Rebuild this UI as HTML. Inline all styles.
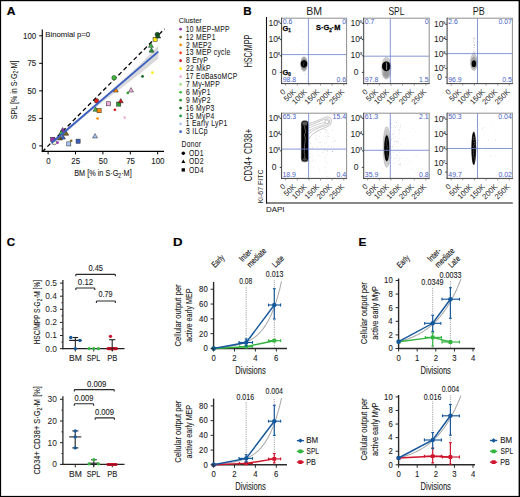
<!DOCTYPE html>
<html><head><meta charset="utf-8"><style>
html,body{margin:0;padding:0;background:#fff;width:520px;height:497px;overflow:hidden}
svg{display:block}
text{font-family:"Liberation Sans",sans-serif}
</style></head><body>
<svg width="520" height="497" viewBox="0 0 520 497">
<rect x="0" y="0" width="520" height="497" fill="#fff"/>
<defs><filter id="bl1" x="-50%" y="-50%" width="200%" height="200%"><feGaussianBlur stdDeviation="0.9"/></filter><filter id="bl2" x="-50%" y="-50%" width="200%" height="200%"><feGaussianBlur stdDeviation="1.6"/></filter><filter id="bl05" x="-50%" y="-50%" width="200%" height="200%"><feGaussianBlur stdDeviation="0.45"/></filter><radialGradient id="halo"><stop offset="0" stop-color="#444"/><stop offset="0.55" stop-color="#888"/><stop offset="0.85" stop-color="#bbb"/><stop offset="1" stop-color="#ddd" stop-opacity="0.3"/></radialGradient><radialGradient id="halo2"><stop offset="0" stop-color="#8a8a8a"/><stop offset="0.75" stop-color="#c4c4c4"/><stop offset="1" stop-color="#e2e2e2"/></radialGradient><radialGradient id="halo3"><stop offset="0" stop-color="#888"/><stop offset="0.8" stop-color="#ccc"/><stop offset="1" stop-color="#eee"/></radialGradient></defs>
<text transform="translate(7.1 14.8) translate(-0.3 0) scale(1.0605 1)" font-size="11.4" font-weight="bold" fill="#000" stroke="#000" stroke-width="0.2">A</text>
<path d="M51.5 140.6 L70 125.4 L90 108.6 L105 95.8 L120 82.6 L140 64.5 L158.2 45.4 L158.2 58.8 L140 73.5 L120 88.9 L105 100 L90 112 L70 129 L51.5 145.4Z" fill="#d9d9d9" stroke="none" stroke-width="1"/>
<line x1="42.29" y1="151.74" x2="164.6" y2="28.86" stroke="#000" stroke-width="1.3" stroke-dasharray="4.3 2.9"/>
<rect x="50.65" y="137.25" width="4.1" height="4.1" fill="#9a2fb0" stroke="#222" stroke-width="0.5"/>
<circle cx="54.4" cy="142.5" r="2.3" fill="#e8f4d8" stroke="#222" stroke-width="0.5"/>
<circle cx="57.6" cy="142.6" r="1.3" fill="#9a2fb0"/>
<path d="M60 135.57 L57.5 139.97 L62.5 139.97Z" fill="#7d6b1e" stroke="#222" stroke-width="0.5"/>
<path d="M66.2 130.87 L63.7 135.27 L68.7 135.27Z" fill="#7d6b1e" stroke="#222" stroke-width="0.5"/>
<path d="M62.7 127.47 L60.2 131.87 L65.2 131.87Z" fill="#9a2fb0" stroke="#222" stroke-width="0.5"/>
<path d="M61.3 130.27 L58.8 134.67 L63.8 134.67Z" fill="#3cbc3c" stroke="#222" stroke-width="0.5"/>
<path d="M62.9 134.67 L60.4 139.07 L65.4 139.07Z" fill="#3a62c4" stroke="#222" stroke-width="0.5"/>
<rect x="66.75" y="141.85" width="4.1" height="4.1" fill="#a8c4f4" stroke="#222" stroke-width="0.5"/>
<circle cx="71.2" cy="140.8" r="1.3" fill="#7d6b1e"/>
<rect x="76.05" y="139.15" width="4.1" height="4.1" fill="#3a62c4" stroke="#222" stroke-width="0.5"/>
<path d="M95 133.57 L92.5 137.97 L97.5 137.97Z" fill="#a8c4f4" stroke="#222" stroke-width="0.5"/>
<circle cx="97.6" cy="118.5" r="1.3" fill="#ff8a00"/>
<path d="M95.6 106.87 L93.1 111.27 L98.1 111.27Z" fill="#3cbc3c" stroke="#222" stroke-width="0.5"/>
<rect x="97.05" y="108.65" width="4.1" height="4.1" fill="#ff8a00" stroke="#222" stroke-width="0.5"/>
<circle cx="96.6" cy="100.9" r="2.3" fill="#e0201c" stroke="#222" stroke-width="0.5"/>
<rect x="106.55" y="101.75" width="4.1" height="4.1" fill="#eeaad8" stroke="#222" stroke-width="0.5"/>
<circle cx="114.9" cy="109.7" r="1.3" fill="#d2141c"/>
<rect x="116.65" y="102.05" width="4.1" height="4.1" fill="#2a9f2a" stroke="#222" stroke-width="0.5"/>
<path d="M120.8 98.47 L118.3 102.87 L123.3 102.87Z" fill="#d2141c" stroke="#222" stroke-width="0.5"/>
<circle cx="124.7" cy="117.5" r="1.3" fill="#eeaad8"/>
<path d="M115.8 87.57 L113.3 91.97 L118.3 91.97Z" fill="#ff8a00" stroke="#222" stroke-width="0.5"/>
<path d="M131 87.57 L128.5 91.97 L133.5 91.97Z" fill="#eeaad8" stroke="#222" stroke-width="0.5"/>
<circle cx="127.8" cy="92.9" r="1.3" fill="#2a9f2a"/>
<circle cx="114.1" cy="77.8" r="2.3" fill="#3cbc3c" stroke="#222" stroke-width="0.5"/>
<circle cx="142.5" cy="76.4" r="1.3" fill="#0d5c1c"/>
<circle cx="152.4" cy="72.6" r="1.3" fill="#ffee00"/>
<path d="M151.5 47.77 L149 52.17 L154 52.17Z" fill="#229a3a" stroke="#222" stroke-width="0.5"/>
<path d="M150.9 42.97 L148.4 47.37 L153.4 47.37Z" fill="#3cbc3c" stroke="#222" stroke-width="0.5"/>
<rect x="153.05" y="37.25" width="4.1" height="4.1" fill="#ffee00" stroke="#222" stroke-width="0.5"/>
<circle cx="157.3" cy="34.6" r="2.3" fill="#0d5c1c" stroke="#222" stroke-width="0.5"/>
<path d="M158.2 33.67 L155.7 38.07 L160.7 38.07Z" fill="#0d5c1c" stroke="#222" stroke-width="0.5"/>
<line x1="51.5" y1="143" x2="158.3" y2="51.6" stroke="#3a5fc4" stroke-width="1.9"/>
<line x1="42.3" y1="29.4" x2="42.3" y2="151.7" stroke="#000" stroke-width="1.15"/>
<line x1="41.7" y1="151.4" x2="164" y2="151.4" stroke="#000" stroke-width="1.15"/>
<line x1="39.2" y1="145.9" x2="42.3" y2="145.9" stroke="#000" stroke-width="1"/>
<text transform="translate(35.9 149) translate(-4.11 0) scale(0.8600 1)" font-size="9.2" fill="#1a1a1a" stroke="#1a1a1a" stroke-width="0.1">0</text>
<line x1="48.1" y1="151.4" x2="48.1" y2="154.4" stroke="#000" stroke-width="1"/>
<text transform="translate(48.4 163.7) translate(-2.22 0) scale(0.8600 1)" font-size="9.2" fill="#1a1a1a" stroke="#1a1a1a" stroke-width="0.1">0</text>
<line x1="39.2" y1="118.38" x2="42.3" y2="118.38" stroke="#000" stroke-width="1"/>
<text transform="translate(35.9 121.47) translate(-8.47 0) scale(0.8600 1)" font-size="9.2" fill="#1a1a1a" stroke="#1a1a1a" stroke-width="0.1">25</text>
<line x1="75.5" y1="151.4" x2="75.5" y2="154.4" stroke="#000" stroke-width="1"/>
<text transform="translate(75.8 163.7) translate(-4.43 0) scale(0.8600 1)" font-size="9.2" fill="#1a1a1a" stroke="#1a1a1a" stroke-width="0.1">25</text>
<line x1="39.2" y1="90.85" x2="42.3" y2="90.85" stroke="#000" stroke-width="1"/>
<text transform="translate(35.9 93.95) translate(-8.51 0) scale(0.8600 1)" font-size="9.2" fill="#1a1a1a" stroke="#1a1a1a" stroke-width="0.1">50</text>
<line x1="102.9" y1="151.4" x2="102.9" y2="154.4" stroke="#000" stroke-width="1"/>
<text transform="translate(103.2 163.7) translate(-4.41 0) scale(0.8600 1)" font-size="9.2" fill="#1a1a1a" stroke="#1a1a1a" stroke-width="0.1">50</text>
<line x1="39.2" y1="63.33" x2="42.3" y2="63.33" stroke="#000" stroke-width="1"/>
<text transform="translate(35.9 66.42) translate(-8.47 0) scale(0.8600 1)" font-size="9.2" fill="#1a1a1a" stroke="#1a1a1a" stroke-width="0.1">75</text>
<line x1="130.3" y1="151.4" x2="130.3" y2="154.4" stroke="#000" stroke-width="1"/>
<text transform="translate(130.6 163.7) translate(-4.43 0) scale(0.8600 1)" font-size="9.2" fill="#1a1a1a" stroke="#1a1a1a" stroke-width="0.1">75</text>
<line x1="39.2" y1="35.8" x2="42.3" y2="35.8" stroke="#000" stroke-width="1"/>
<text transform="translate(35.9 38.9) translate(-12.9 0) scale(0.8600 1)" font-size="9.2" fill="#1a1a1a" stroke="#1a1a1a" stroke-width="0.1">100</text>
<line x1="157.7" y1="151.4" x2="157.7" y2="154.4" stroke="#000" stroke-width="1"/>
<text transform="translate(158 163.7) translate(-6.74 0) scale(0.8600 1)" font-size="9.2" fill="#1a1a1a" stroke="#1a1a1a" stroke-width="0.1">100</text>
<text transform="translate(45.9 36.8) translate(-0.62 0) scale(0.9560 1)" font-size="8.1" fill="#1a1a1a" stroke="#1a1a1a" stroke-width="0.1">Binomial p=0</text>
<text transform="translate(102.95 176.4) translate(-28.8 0) scale(0.7688 1)" font-size="9.5" fill="#1a1a1a" stroke="#1a1a1a" stroke-width="0.1">BM [% in S·G<tspan font-size="6.6" dy="1.9">2</tspan><tspan dy="-1.9">·M]</tspan></text>
<text transform="translate(16.5 89.85) rotate(-90) translate(-29.4 0) scale(0.7511 1)" font-size="9.5" fill="#1a1a1a" stroke="#1a1a1a" stroke-width="0.1">SPL [% in S·G<tspan font-size="6.6" dy="1.9">2</tspan><tspan dy="-1.9">·M]</tspan></text>
<text transform="translate(179 22.7) translate(-0.36 0) scale(0.9113 1)" font-size="8" fill="#1a1a1a" stroke="#1a1a1a" stroke-width="0.08">Cluster</text>
<circle cx="180.6" cy="29.15" r="1.35" fill="#9a2fb0"/>
<text transform="translate(186.3 31.75) translate(-0.51 0) scale(0.7704 1)" font-size="8.8" fill="#1a1a1a" stroke="#1a1a1a" stroke-width="0.08" letter-spacing="0.39">10 MEP-MPP</text>
<circle cx="180.6" cy="37.04" r="1.35" fill="#7d6b1e"/>
<text transform="translate(186.3 39.64) translate(-0.51 0) scale(0.7704 1)" font-size="8.8" fill="#1a1a1a" stroke="#1a1a1a" stroke-width="0.08" letter-spacing="0.39">12 MEP1</text>
<circle cx="180.6" cy="44.93" r="1.35" fill="#ff8a00"/>
<text transform="translate(186.3 47.53) translate(-0.34 0) scale(0.7704 1)" font-size="8.8" fill="#1a1a1a" stroke="#1a1a1a" stroke-width="0.08" letter-spacing="0.39">2 MEP2</text>
<circle cx="180.6" cy="52.82" r="1.35" fill="#ff3a10"/>
<text transform="translate(186.3 55.42) translate(-0.51 0) scale(0.7704 1)" font-size="8.8" fill="#1a1a1a" stroke="#1a1a1a" stroke-width="0.08" letter-spacing="0.39">13 MEP cycle</text>
<circle cx="180.6" cy="60.71" r="1.35" fill="#d2141c"/>
<text transform="translate(186.3 63.31) translate(-0.31 0) scale(0.7704 1)" font-size="8.8" fill="#1a1a1a" stroke="#1a1a1a" stroke-width="0.08" letter-spacing="0.39">8 EryP</text>
<circle cx="180.6" cy="68.6" r="1.35" fill="#ffee00"/>
<text transform="translate(186.3 71.2) translate(-0.34 0) scale(0.7704 1)" font-size="8.8" fill="#1a1a1a" stroke="#1a1a1a" stroke-width="0.08" letter-spacing="0.39">22 MkP</text>
<circle cx="180.6" cy="76.49" r="1.35" fill="#eeaad8"/>
<text transform="translate(186.3 79.09) translate(-0.51 0) scale(0.7704 1)" font-size="8.8" fill="#1a1a1a" stroke="#1a1a1a" stroke-width="0.08" letter-spacing="0.39">17 EoBasoMCP</text>
<circle cx="180.6" cy="84.38" r="1.35" fill="#a8dc88"/>
<text transform="translate(186.3 86.98) translate(-0.34 0) scale(0.7704 1)" font-size="8.8" fill="#1a1a1a" stroke="#1a1a1a" stroke-width="0.08" letter-spacing="0.39">7 My-MPP</text>
<circle cx="180.6" cy="92.27" r="1.35" fill="#3cbc3c"/>
<text transform="translate(186.3 94.87) translate(-0.34 0) scale(0.7704 1)" font-size="8.8" fill="#1a1a1a" stroke="#1a1a1a" stroke-width="0.08" letter-spacing="0.39">6 MyP1</text>
<circle cx="180.6" cy="100.16" r="1.35" fill="#2a9f2a"/>
<text transform="translate(186.3 102.76) translate(-0.31 0) scale(0.7704 1)" font-size="8.8" fill="#1a1a1a" stroke="#1a1a1a" stroke-width="0.08" letter-spacing="0.39">9 MyP2</text>
<circle cx="180.6" cy="108.05" r="1.35" fill="#0d5c1c"/>
<text transform="translate(186.3 110.65) translate(-0.51 0) scale(0.7704 1)" font-size="8.8" fill="#1a1a1a" stroke="#1a1a1a" stroke-width="0.08" letter-spacing="0.39">16 MyP3</text>
<circle cx="180.6" cy="115.94" r="1.35" fill="#229a3a"/>
<text transform="translate(186.3 118.54) translate(-0.51 0) scale(0.7704 1)" font-size="8.8" fill="#1a1a1a" stroke="#1a1a1a" stroke-width="0.08" letter-spacing="0.39">15 MyP4</text>
<circle cx="180.6" cy="123.83" r="1.35" fill="#a8c4f4"/>
<text transform="translate(186.3 126.43) translate(-0.51 0) scale(0.7704 1)" font-size="8.8" fill="#1a1a1a" stroke="#1a1a1a" stroke-width="0.08" letter-spacing="0.39">1 Early LyP1</text>
<circle cx="180.6" cy="131.72" r="1.35" fill="#3a62c4"/>
<text transform="translate(186.3 134.32) translate(-0.27 0) scale(0.7704 1)" font-size="8.8" fill="#1a1a1a" stroke="#1a1a1a" stroke-width="0.08" letter-spacing="0.39">3 ILCp</text>
<text transform="translate(182 147.3) translate(-0.54 0) scale(0.7704 1)" font-size="8.8" fill="#1a1a1a" stroke="#1a1a1a" stroke-width="0.08" letter-spacing="0.39">Donor</text>
<circle cx="183.3" cy="153.3" r="1.75" fill="#000"/>
<path d="M183.3 159.4 L181.3 163.0 L185.3 163.0Z" fill="#000" stroke="none" stroke-width="1"/>
<rect x="181.65" y="168.25" width="3.3" height="3.3" fill="#000"/>
<text transform="translate(189.2 155.7) translate(-0.31 0) scale(0.7704 1)" font-size="8.8" fill="#1a1a1a" stroke="#1a1a1a" stroke-width="0.08" letter-spacing="0.39">OD1</text>
<text transform="translate(189.2 163.9) translate(-0.31 0) scale(0.7704 1)" font-size="8.8" fill="#1a1a1a" stroke="#1a1a1a" stroke-width="0.08" letter-spacing="0.39">OD2</text>
<text transform="translate(189.2 172.6) translate(-0.31 0) scale(0.7704 1)" font-size="8.8" fill="#1a1a1a" stroke="#1a1a1a" stroke-width="0.08" letter-spacing="0.39">OD4</text>
<text transform="translate(244 14.9) translate(-0.76 0) scale(1.0034 1)" font-size="11.6" font-weight="bold" fill="#000" stroke="#000" stroke-width="0.2">B</text>
<text transform="translate(314.2 14.9) translate(-7.89 0) scale(0.9964 1)" font-size="10.6" fill="#1a1a1a">BM</text>
<text transform="translate(396.5 14.9) translate(-8.08 0) scale(0.8005 1)" font-size="10.6" fill="#1a1a1a">SPL</text>
<text transform="translate(478.9 14.9) translate(-6.12 0) scale(0.8491 1)" font-size="10.6" fill="#1a1a1a">PB</text>
<text transform="translate(251.7 50.95) rotate(-90) translate(-16.42 0) scale(0.6513 1)" font-size="11" fill="#1a1a1a">HSC/MPP</text>
<text transform="translate(251.9 155.2) rotate(-90) translate(-26.4 0) scale(0.7594 1)" font-size="10.6" fill="#1a1a1a">CD34+ CD38+</text>
<text transform="translate(263.1 186.2) rotate(-90) translate(-17.11 0) scale(0.8775 1)" font-size="8" fill="#1a1a1a">Ki-67 FITC</text>
<text transform="translate(266.7 212.1) translate(-0.63 0) scale(1.0698 1)" font-size="7.4" fill="#1a1a1a" stroke="#1a1a1a" stroke-width="0.05">DAPI</text>
<line x1="266.5" y1="17" x2="266.5" y2="203.5" stroke="#111" stroke-width="1.1"/>
<line x1="266" y1="203" x2="512.8" y2="203" stroke="#111" stroke-width="1.1"/>
<ellipse cx="304" cy="64" rx="4.1" ry="8.2" fill="url(#halo)"/>
<ellipse cx="304" cy="63.8" rx="3.2" ry="3.6" fill="#000" filter="url(#bl05)"/>
<path d="M303.7 61.8 q0.8 1 0 2 q-0.8 1 0 2" stroke="#777" stroke-width="0.5" fill="none"/>
<circle cx="302.68" cy="31" r="0.35" fill="#aaa"/>
<circle cx="303.29" cy="37" r="0.35" fill="#aaa"/>
<circle cx="302.94" cy="45" r="0.35" fill="#aaa"/>
<circle cx="303.41" cy="50" r="0.35" fill="#aaa"/>
<circle cx="304.5" cy="74" r="0.4" fill="#bbb"/>
<line x1="308.4" y1="18.2" x2="308.4" y2="83.6" stroke="#6680cc" stroke-width="0.8"/>
<line x1="281.6" y1="54.6" x2="346.6" y2="54.6" stroke="#6680cc" stroke-width="0.8"/>
<line x1="281.6" y1="18.2" x2="347.1" y2="18.2" stroke="#8e8e8e" stroke-width="1"/>
<line x1="346.6" y1="18.2" x2="346.6" y2="83.6" stroke="#8e8e8e" stroke-width="1"/>
<line x1="281.6" y1="17.7" x2="281.6" y2="84.1" stroke="#3a3a3a" stroke-width="1"/>
<line x1="281.1" y1="83.6" x2="347.1" y2="83.6" stroke="#3a3a3a" stroke-width="1"/>
<text transform="translate(283 24.4) translate(-0.28 0) scale(1.1000 1)" font-size="6.3" fill="#4862c6">0.6</text>
<text transform="translate(345.8 24.4) translate(-3.6 0) scale(1.1000 1)" font-size="6.3" fill="#4862c6">0</text>
<text transform="translate(283 81.7) translate(-0.31 0) scale(1.1000 1)" font-size="6.3" fill="#4862c6">98.8</text>
<text transform="translate(345.8 81.7) translate(-9.36 0) scale(1.1000 1)" font-size="6.3" fill="#4862c6">0.6</text>
<text transform="translate(277.6 25.9) translate(-9.19 0) scale(0.9500 1)" font-size="9" fill="#1a1a1a">10</text>
<text transform="translate(277.75 22.9) translate(-0.17 0)" font-size="4.3" fill="#1a1a1a" stroke="#1a1a1a" stroke-width="0.1">5</text>
<line x1="279.8" y1="23.3" x2="281.6" y2="23.3" stroke="#222" stroke-width="0.9"/>
<text transform="translate(277.6 42.2) translate(-9.19 0) scale(0.9500 1)" font-size="9" fill="#1a1a1a">10</text>
<text transform="translate(277.75 39.2) translate(-0.09 0)" font-size="4.3" fill="#1a1a1a" stroke="#1a1a1a" stroke-width="0.1">4</text>
<line x1="279.8" y1="39.6" x2="281.6" y2="39.6" stroke="#222" stroke-width="0.9"/>
<text transform="translate(277.6 58.4) translate(-9.19 0) scale(0.9500 1)" font-size="9" fill="#1a1a1a">10</text>
<text transform="translate(277.75 55.4) translate(-0.17 0)" font-size="4.3" fill="#1a1a1a" stroke="#1a1a1a" stroke-width="0.1">3</text>
<line x1="279.8" y1="55.8" x2="281.6" y2="55.8" stroke="#222" stroke-width="0.9"/>
<text transform="translate(276.2 75.2) translate(-4.45 0) scale(0.9500 1)" font-size="9" fill="#1a1a1a">0</text>
<line x1="279.8" y1="72.4" x2="281.6" y2="72.4" stroke="#222" stroke-width="0.9"/>
<line x1="280.6" y1="20.4" x2="281.6" y2="20.4" stroke="#999" stroke-width="0.4"/>
<line x1="280.6" y1="22.6" x2="281.6" y2="22.6" stroke="#999" stroke-width="0.4"/>
<line x1="280.6" y1="24.8" x2="281.6" y2="24.8" stroke="#999" stroke-width="0.4"/>
<line x1="280.6" y1="27" x2="281.6" y2="27" stroke="#999" stroke-width="0.4"/>
<line x1="280.6" y1="29.2" x2="281.6" y2="29.2" stroke="#999" stroke-width="0.4"/>
<line x1="280.6" y1="31.4" x2="281.6" y2="31.4" stroke="#999" stroke-width="0.4"/>
<line x1="280.6" y1="33.6" x2="281.6" y2="33.6" stroke="#999" stroke-width="0.4"/>
<line x1="280.6" y1="35.8" x2="281.6" y2="35.8" stroke="#999" stroke-width="0.4"/>
<line x1="280.6" y1="38" x2="281.6" y2="38" stroke="#999" stroke-width="0.4"/>
<line x1="280.6" y1="40.2" x2="281.6" y2="40.2" stroke="#999" stroke-width="0.4"/>
<line x1="280.6" y1="42.4" x2="281.6" y2="42.4" stroke="#999" stroke-width="0.4"/>
<line x1="280.6" y1="44.6" x2="281.6" y2="44.6" stroke="#999" stroke-width="0.4"/>
<line x1="280.6" y1="46.8" x2="281.6" y2="46.8" stroke="#999" stroke-width="0.4"/>
<line x1="280.6" y1="49" x2="281.6" y2="49" stroke="#999" stroke-width="0.4"/>
<line x1="280.6" y1="51.2" x2="281.6" y2="51.2" stroke="#999" stroke-width="0.4"/>
<line x1="280.6" y1="53.4" x2="281.6" y2="53.4" stroke="#999" stroke-width="0.4"/>
<line x1="280.6" y1="55.6" x2="281.6" y2="55.6" stroke="#999" stroke-width="0.4"/>
<line x1="280.6" y1="57.8" x2="281.6" y2="57.8" stroke="#999" stroke-width="0.4"/>
<line x1="280.6" y1="60" x2="281.6" y2="60" stroke="#999" stroke-width="0.4"/>
<line x1="280.6" y1="62.2" x2="281.6" y2="62.2" stroke="#999" stroke-width="0.4"/>
<line x1="280.6" y1="64.4" x2="281.6" y2="64.4" stroke="#999" stroke-width="0.4"/>
<line x1="280.6" y1="66.6" x2="281.6" y2="66.6" stroke="#999" stroke-width="0.4"/>
<line x1="280.6" y1="68.8" x2="281.6" y2="68.8" stroke="#999" stroke-width="0.4"/>
<line x1="280.6" y1="71" x2="281.6" y2="71" stroke="#999" stroke-width="0.4"/>
<line x1="280.6" y1="73.2" x2="281.6" y2="73.2" stroke="#999" stroke-width="0.4"/>
<line x1="280.6" y1="75.4" x2="281.6" y2="75.4" stroke="#999" stroke-width="0.4"/>
<line x1="280.6" y1="77.6" x2="281.6" y2="77.6" stroke="#999" stroke-width="0.4"/>
<line x1="280.6" y1="79.8" x2="281.6" y2="79.8" stroke="#999" stroke-width="0.4"/>
<line x1="280.6" y1="82" x2="281.6" y2="82" stroke="#999" stroke-width="0.4"/>
<line x1="285.6" y1="83.6" x2="285.6" y2="85.6" stroke="#6a6a6a" stroke-width="0.7"/>
<text transform="translate(285.9 92.4) rotate(-45) translate(-3.95 0)" font-size="7.6" fill="#1a1a1a">0</text>
<line x1="297.24" y1="83.6" x2="297.24" y2="85.6" stroke="#6a6a6a" stroke-width="0.7"/>
<text transform="translate(296.3 92.4) rotate(-45) translate(-13.41 0)" font-size="7.6" fill="#1a1a1a">50K</text>
<line x1="308.88" y1="83.6" x2="308.88" y2="85.6" stroke="#6a6a6a" stroke-width="0.7"/>
<text transform="translate(307.4 92.4) rotate(-45) translate(-17.67 0)" font-size="7.6" fill="#1a1a1a">100K</text>
<line x1="320.52" y1="83.6" x2="320.52" y2="85.6" stroke="#6a6a6a" stroke-width="0.7"/>
<text transform="translate(319.9 92.4) rotate(-45) translate(-17.67 0)" font-size="7.6" fill="#1a1a1a">150K</text>
<line x1="332.16" y1="83.6" x2="332.16" y2="85.6" stroke="#6a6a6a" stroke-width="0.7"/>
<text transform="translate(332.3 92.4) rotate(-45) translate(-17.67 0)" font-size="7.6" fill="#1a1a1a">200K</text>
<line x1="343.8" y1="83.6" x2="343.8" y2="85.6" stroke="#6a6a6a" stroke-width="0.7"/>
<text transform="translate(344.8 92.4) rotate(-45) translate(-17.67 0)" font-size="7.6" fill="#1a1a1a">250K</text>
<line x1="287.93" y1="83.6" x2="287.93" y2="84.6" stroke="#999" stroke-width="0.4"/>
<line x1="290.26" y1="83.6" x2="290.26" y2="84.6" stroke="#999" stroke-width="0.4"/>
<line x1="292.58" y1="83.6" x2="292.58" y2="84.6" stroke="#999" stroke-width="0.4"/>
<line x1="294.91" y1="83.6" x2="294.91" y2="84.6" stroke="#999" stroke-width="0.4"/>
<line x1="297.24" y1="83.6" x2="297.24" y2="84.6" stroke="#999" stroke-width="0.4"/>
<line x1="299.57" y1="83.6" x2="299.57" y2="84.6" stroke="#999" stroke-width="0.4"/>
<line x1="301.9" y1="83.6" x2="301.9" y2="84.6" stroke="#999" stroke-width="0.4"/>
<line x1="304.22" y1="83.6" x2="304.22" y2="84.6" stroke="#999" stroke-width="0.4"/>
<line x1="306.55" y1="83.6" x2="306.55" y2="84.6" stroke="#999" stroke-width="0.4"/>
<line x1="308.88" y1="83.6" x2="308.88" y2="84.6" stroke="#999" stroke-width="0.4"/>
<line x1="311.21" y1="83.6" x2="311.21" y2="84.6" stroke="#999" stroke-width="0.4"/>
<line x1="313.54" y1="83.6" x2="313.54" y2="84.6" stroke="#999" stroke-width="0.4"/>
<line x1="315.86" y1="83.6" x2="315.86" y2="84.6" stroke="#999" stroke-width="0.4"/>
<line x1="318.19" y1="83.6" x2="318.19" y2="84.6" stroke="#999" stroke-width="0.4"/>
<line x1="320.52" y1="83.6" x2="320.52" y2="84.6" stroke="#999" stroke-width="0.4"/>
<line x1="322.85" y1="83.6" x2="322.85" y2="84.6" stroke="#999" stroke-width="0.4"/>
<line x1="325.18" y1="83.6" x2="325.18" y2="84.6" stroke="#999" stroke-width="0.4"/>
<line x1="327.5" y1="83.6" x2="327.5" y2="84.6" stroke="#999" stroke-width="0.4"/>
<line x1="329.83" y1="83.6" x2="329.83" y2="84.6" stroke="#999" stroke-width="0.4"/>
<line x1="332.16" y1="83.6" x2="332.16" y2="84.6" stroke="#999" stroke-width="0.4"/>
<line x1="334.49" y1="83.6" x2="334.49" y2="84.6" stroke="#999" stroke-width="0.4"/>
<line x1="336.82" y1="83.6" x2="336.82" y2="84.6" stroke="#999" stroke-width="0.4"/>
<line x1="339.14" y1="83.6" x2="339.14" y2="84.6" stroke="#999" stroke-width="0.4"/>
<line x1="341.47" y1="83.6" x2="341.47" y2="84.6" stroke="#999" stroke-width="0.4"/>
<line x1="343.8" y1="83.6" x2="343.8" y2="84.6" stroke="#999" stroke-width="0.4"/>
<line x1="346.13" y1="83.6" x2="346.13" y2="84.6" stroke="#999" stroke-width="0.4"/>
<ellipse cx="386.35" cy="68.0" rx="4.75" ry="11.0" fill="url(#halo2)"/>
<ellipse cx="386.35" cy="68.0" rx="4.6" ry="10.8" fill="none" stroke="#999" stroke-width="0.4"/>
<ellipse cx="386.3" cy="73.5" rx="3.4" ry="5.0" fill="#999" filter="url(#bl1)"/>
<ellipse cx="386.3" cy="66.3" rx="4.3" ry="4.9" fill="#000" filter="url(#bl05)"/>
<path d="M386.6 62.5 L386.6 70" stroke="#8a8a8a" stroke-width="1.1"/>
<line x1="390.3" y1="18.2" x2="390.3" y2="83.6" stroke="#6680cc" stroke-width="0.8"/>
<line x1="363.7" y1="56.2" x2="429.2" y2="56.2" stroke="#6680cc" stroke-width="0.8"/>
<line x1="363.7" y1="18.2" x2="429.7" y2="18.2" stroke="#8e8e8e" stroke-width="1"/>
<line x1="429.2" y1="18.2" x2="429.2" y2="83.6" stroke="#8e8e8e" stroke-width="1"/>
<line x1="363.7" y1="17.7" x2="363.7" y2="84.1" stroke="#3a3a3a" stroke-width="1"/>
<line x1="363.2" y1="83.6" x2="429.7" y2="83.6" stroke="#3a3a3a" stroke-width="1"/>
<text transform="translate(365.1 24.4) translate(-0.28 0) scale(1.1000 1)" font-size="6.3" fill="#4862c6">0.7</text>
<text transform="translate(428.4 24.4) translate(-3.6 0) scale(1.1000 1)" font-size="6.3" fill="#4862c6">0</text>
<text transform="translate(365.1 81.7) translate(-0.31 0) scale(1.1000 1)" font-size="6.3" fill="#4862c6">97.8</text>
<text transform="translate(428.4 81.7) translate(-9.36 0) scale(1.1000 1)" font-size="6.3" fill="#4862c6">1.5</text>
<text transform="translate(359.7 25.9) translate(-9.19 0) scale(0.9500 1)" font-size="9" fill="#1a1a1a">10</text>
<text transform="translate(359.85 22.9) translate(-0.17 0)" font-size="4.3" fill="#1a1a1a" stroke="#1a1a1a" stroke-width="0.1">5</text>
<line x1="361.9" y1="23.3" x2="363.7" y2="23.3" stroke="#222" stroke-width="0.9"/>
<text transform="translate(359.7 42.2) translate(-9.19 0) scale(0.9500 1)" font-size="9" fill="#1a1a1a">10</text>
<text transform="translate(359.85 39.2) translate(-0.09 0)" font-size="4.3" fill="#1a1a1a" stroke="#1a1a1a" stroke-width="0.1">4</text>
<line x1="361.9" y1="39.6" x2="363.7" y2="39.6" stroke="#222" stroke-width="0.9"/>
<text transform="translate(359.7 58.4) translate(-9.19 0) scale(0.9500 1)" font-size="9" fill="#1a1a1a">10</text>
<text transform="translate(359.85 55.4) translate(-0.17 0)" font-size="4.3" fill="#1a1a1a" stroke="#1a1a1a" stroke-width="0.1">3</text>
<line x1="361.9" y1="55.8" x2="363.7" y2="55.8" stroke="#222" stroke-width="0.9"/>
<text transform="translate(358.3 75.2) translate(-4.45 0) scale(0.9500 1)" font-size="9" fill="#1a1a1a">0</text>
<line x1="361.9" y1="72.4" x2="363.7" y2="72.4" stroke="#222" stroke-width="0.9"/>
<line x1="362.7" y1="20.4" x2="363.7" y2="20.4" stroke="#999" stroke-width="0.4"/>
<line x1="362.7" y1="22.6" x2="363.7" y2="22.6" stroke="#999" stroke-width="0.4"/>
<line x1="362.7" y1="24.8" x2="363.7" y2="24.8" stroke="#999" stroke-width="0.4"/>
<line x1="362.7" y1="27" x2="363.7" y2="27" stroke="#999" stroke-width="0.4"/>
<line x1="362.7" y1="29.2" x2="363.7" y2="29.2" stroke="#999" stroke-width="0.4"/>
<line x1="362.7" y1="31.4" x2="363.7" y2="31.4" stroke="#999" stroke-width="0.4"/>
<line x1="362.7" y1="33.6" x2="363.7" y2="33.6" stroke="#999" stroke-width="0.4"/>
<line x1="362.7" y1="35.8" x2="363.7" y2="35.8" stroke="#999" stroke-width="0.4"/>
<line x1="362.7" y1="38" x2="363.7" y2="38" stroke="#999" stroke-width="0.4"/>
<line x1="362.7" y1="40.2" x2="363.7" y2="40.2" stroke="#999" stroke-width="0.4"/>
<line x1="362.7" y1="42.4" x2="363.7" y2="42.4" stroke="#999" stroke-width="0.4"/>
<line x1="362.7" y1="44.6" x2="363.7" y2="44.6" stroke="#999" stroke-width="0.4"/>
<line x1="362.7" y1="46.8" x2="363.7" y2="46.8" stroke="#999" stroke-width="0.4"/>
<line x1="362.7" y1="49" x2="363.7" y2="49" stroke="#999" stroke-width="0.4"/>
<line x1="362.7" y1="51.2" x2="363.7" y2="51.2" stroke="#999" stroke-width="0.4"/>
<line x1="362.7" y1="53.4" x2="363.7" y2="53.4" stroke="#999" stroke-width="0.4"/>
<line x1="362.7" y1="55.6" x2="363.7" y2="55.6" stroke="#999" stroke-width="0.4"/>
<line x1="362.7" y1="57.8" x2="363.7" y2="57.8" stroke="#999" stroke-width="0.4"/>
<line x1="362.7" y1="60" x2="363.7" y2="60" stroke="#999" stroke-width="0.4"/>
<line x1="362.7" y1="62.2" x2="363.7" y2="62.2" stroke="#999" stroke-width="0.4"/>
<line x1="362.7" y1="64.4" x2="363.7" y2="64.4" stroke="#999" stroke-width="0.4"/>
<line x1="362.7" y1="66.6" x2="363.7" y2="66.6" stroke="#999" stroke-width="0.4"/>
<line x1="362.7" y1="68.8" x2="363.7" y2="68.8" stroke="#999" stroke-width="0.4"/>
<line x1="362.7" y1="71" x2="363.7" y2="71" stroke="#999" stroke-width="0.4"/>
<line x1="362.7" y1="73.2" x2="363.7" y2="73.2" stroke="#999" stroke-width="0.4"/>
<line x1="362.7" y1="75.4" x2="363.7" y2="75.4" stroke="#999" stroke-width="0.4"/>
<line x1="362.7" y1="77.6" x2="363.7" y2="77.6" stroke="#999" stroke-width="0.4"/>
<line x1="362.7" y1="79.8" x2="363.7" y2="79.8" stroke="#999" stroke-width="0.4"/>
<line x1="362.7" y1="82" x2="363.7" y2="82" stroke="#999" stroke-width="0.4"/>
<line x1="367.7" y1="83.6" x2="367.7" y2="85.6" stroke="#6a6a6a" stroke-width="0.7"/>
<text transform="translate(368 92.4) rotate(-45) translate(-3.95 0)" font-size="7.6" fill="#1a1a1a">0</text>
<line x1="379.34" y1="83.6" x2="379.34" y2="85.6" stroke="#6a6a6a" stroke-width="0.7"/>
<text transform="translate(378.4 92.4) rotate(-45) translate(-13.41 0)" font-size="7.6" fill="#1a1a1a">50K</text>
<line x1="390.98" y1="83.6" x2="390.98" y2="85.6" stroke="#6a6a6a" stroke-width="0.7"/>
<text transform="translate(389.5 92.4) rotate(-45) translate(-17.67 0)" font-size="7.6" fill="#1a1a1a">100K</text>
<line x1="402.62" y1="83.6" x2="402.62" y2="85.6" stroke="#6a6a6a" stroke-width="0.7"/>
<text transform="translate(402 92.4) rotate(-45) translate(-17.67 0)" font-size="7.6" fill="#1a1a1a">150K</text>
<line x1="414.26" y1="83.6" x2="414.26" y2="85.6" stroke="#6a6a6a" stroke-width="0.7"/>
<text transform="translate(414.4 92.4) rotate(-45) translate(-17.67 0)" font-size="7.6" fill="#1a1a1a">200K</text>
<line x1="425.9" y1="83.6" x2="425.9" y2="85.6" stroke="#6a6a6a" stroke-width="0.7"/>
<text transform="translate(426.9 92.4) rotate(-45) translate(-17.67 0)" font-size="7.6" fill="#1a1a1a">250K</text>
<line x1="370.03" y1="83.6" x2="370.03" y2="84.6" stroke="#999" stroke-width="0.4"/>
<line x1="372.36" y1="83.6" x2="372.36" y2="84.6" stroke="#999" stroke-width="0.4"/>
<line x1="374.68" y1="83.6" x2="374.68" y2="84.6" stroke="#999" stroke-width="0.4"/>
<line x1="377.01" y1="83.6" x2="377.01" y2="84.6" stroke="#999" stroke-width="0.4"/>
<line x1="379.34" y1="83.6" x2="379.34" y2="84.6" stroke="#999" stroke-width="0.4"/>
<line x1="381.67" y1="83.6" x2="381.67" y2="84.6" stroke="#999" stroke-width="0.4"/>
<line x1="384" y1="83.6" x2="384" y2="84.6" stroke="#999" stroke-width="0.4"/>
<line x1="386.32" y1="83.6" x2="386.32" y2="84.6" stroke="#999" stroke-width="0.4"/>
<line x1="388.65" y1="83.6" x2="388.65" y2="84.6" stroke="#999" stroke-width="0.4"/>
<line x1="390.98" y1="83.6" x2="390.98" y2="84.6" stroke="#999" stroke-width="0.4"/>
<line x1="393.31" y1="83.6" x2="393.31" y2="84.6" stroke="#999" stroke-width="0.4"/>
<line x1="395.64" y1="83.6" x2="395.64" y2="84.6" stroke="#999" stroke-width="0.4"/>
<line x1="397.96" y1="83.6" x2="397.96" y2="84.6" stroke="#999" stroke-width="0.4"/>
<line x1="400.29" y1="83.6" x2="400.29" y2="84.6" stroke="#999" stroke-width="0.4"/>
<line x1="402.62" y1="83.6" x2="402.62" y2="84.6" stroke="#999" stroke-width="0.4"/>
<line x1="404.95" y1="83.6" x2="404.95" y2="84.6" stroke="#999" stroke-width="0.4"/>
<line x1="407.28" y1="83.6" x2="407.28" y2="84.6" stroke="#999" stroke-width="0.4"/>
<line x1="409.6" y1="83.6" x2="409.6" y2="84.6" stroke="#999" stroke-width="0.4"/>
<line x1="411.93" y1="83.6" x2="411.93" y2="84.6" stroke="#999" stroke-width="0.4"/>
<line x1="414.26" y1="83.6" x2="414.26" y2="84.6" stroke="#999" stroke-width="0.4"/>
<line x1="416.59" y1="83.6" x2="416.59" y2="84.6" stroke="#999" stroke-width="0.4"/>
<line x1="418.92" y1="83.6" x2="418.92" y2="84.6" stroke="#999" stroke-width="0.4"/>
<line x1="421.24" y1="83.6" x2="421.24" y2="84.6" stroke="#999" stroke-width="0.4"/>
<line x1="423.57" y1="83.6" x2="423.57" y2="84.6" stroke="#999" stroke-width="0.4"/>
<line x1="425.9" y1="83.6" x2="425.9" y2="84.6" stroke="#999" stroke-width="0.4"/>
<line x1="428.23" y1="83.6" x2="428.23" y2="84.6" stroke="#999" stroke-width="0.4"/>
<circle cx="474.08" cy="38.18" r="0.32" fill="#888"/>
<circle cx="473.22" cy="52.07" r="0.32" fill="#888"/>
<circle cx="473.56" cy="41.22" r="0.32" fill="#888"/>
<circle cx="474.59" cy="45.46" r="0.32" fill="#888"/>
<circle cx="474.37" cy="45.57" r="0.32" fill="#888"/>
<circle cx="474.09" cy="39.71" r="0.32" fill="#888"/>
<circle cx="474.09" cy="52.62" r="0.32" fill="#888"/>
<circle cx="473.93" cy="50.34" r="0.32" fill="#888"/>
<circle cx="474.14" cy="38.15" r="0.32" fill="#888"/>
<circle cx="474.26" cy="47.64" r="0.32" fill="#888"/>
<circle cx="473.62" cy="37.56" r="0.32" fill="#888"/>
<circle cx="474.41" cy="45.51" r="0.32" fill="#888"/>
<circle cx="474.21" cy="52.82" r="0.32" fill="#888"/>
<circle cx="474.2" cy="53.58" r="0.32" fill="#888"/>
<circle cx="473.75" cy="51.42" r="0.32" fill="#888"/>
<circle cx="473.82" cy="53.84" r="0.32" fill="#888"/>
<circle cx="474.43" cy="38.75" r="0.32" fill="#888"/>
<circle cx="473.39" cy="40.91" r="0.32" fill="#888"/>
<circle cx="474.55" cy="44.85" r="0.32" fill="#888"/>
<circle cx="474.08" cy="42.42" r="0.32" fill="#888"/>
<circle cx="473.91" cy="43.95" r="0.32" fill="#888"/>
<circle cx="473.69" cy="47.53" r="0.32" fill="#888"/>
<ellipse cx="473.85" cy="62.2" rx="3.25" ry="8.5" fill="url(#halo3)" stroke="#777" stroke-width="0.4"/>
<ellipse cx="473.85" cy="63.2" rx="2.7" ry="5.6" fill="none" stroke="#666" stroke-width="0.4"/>
<ellipse cx="473.85" cy="63.7" rx="2.25" ry="3.5" fill="#000" filter="url(#bl05)"/>
<line x1="477.5" y1="18.2" x2="477.5" y2="83.6" stroke="#6680cc" stroke-width="0.8"/>
<line x1="447.1" y1="53.6" x2="512.4" y2="53.6" stroke="#6680cc" stroke-width="0.8"/>
<line x1="447.1" y1="18.2" x2="512.9" y2="18.2" stroke="#8e8e8e" stroke-width="1"/>
<line x1="512.4" y1="18.2" x2="512.4" y2="83.6" stroke="#8e8e8e" stroke-width="1"/>
<line x1="447.1" y1="17.7" x2="447.1" y2="84.1" stroke="#3a3a3a" stroke-width="1"/>
<line x1="446.6" y1="83.6" x2="512.9" y2="83.6" stroke="#3a3a3a" stroke-width="1"/>
<text transform="translate(448.5 24.4) translate(-0.35 0) scale(1.1000 1)" font-size="6.3" fill="#4862c6">2.6</text>
<text transform="translate(511.6 24.4) translate(-13.13 0) scale(1.1000 1)" font-size="6.3" fill="#4862c6">0.07</text>
<text transform="translate(448.5 81.7) translate(-0.31 0) scale(1.1000 1)" font-size="6.3" fill="#4862c6">96.9</text>
<text transform="translate(511.6 81.7) translate(-9.36 0) scale(1.1000 1)" font-size="6.3" fill="#4862c6">0.5</text>
<text transform="translate(443.1 26.9) translate(-9.19 0) scale(0.9500 1)" font-size="9" fill="#1a1a1a">10</text>
<text transform="translate(443.25 23.9) translate(-0.17 0)" font-size="4.3" fill="#1a1a1a" stroke="#1a1a1a" stroke-width="0.1">5</text>
<line x1="445.3" y1="24.3" x2="447.1" y2="24.3" stroke="#222" stroke-width="0.9"/>
<text transform="translate(443.1 42.1) translate(-9.19 0) scale(0.9500 1)" font-size="9" fill="#1a1a1a">10</text>
<text transform="translate(443.25 39.1) translate(-0.09 0)" font-size="4.3" fill="#1a1a1a" stroke="#1a1a1a" stroke-width="0.1">4</text>
<line x1="445.3" y1="39.5" x2="447.1" y2="39.5" stroke="#222" stroke-width="0.9"/>
<text transform="translate(443.1 56.6) translate(-9.19 0) scale(0.9500 1)" font-size="9" fill="#1a1a1a">10</text>
<text transform="translate(443.25 53.6) translate(-0.17 0)" font-size="4.3" fill="#1a1a1a" stroke="#1a1a1a" stroke-width="0.1">3</text>
<line x1="445.3" y1="54" x2="447.1" y2="54" stroke="#222" stroke-width="0.9"/>
<text transform="translate(443.1 71.1) translate(-9.19 0) scale(0.9500 1)" font-size="9" fill="#1a1a1a">10</text>
<text transform="translate(443.25 68.1) translate(-0.21 0)" font-size="4.3" fill="#1a1a1a" stroke="#1a1a1a" stroke-width="0.1">2</text>
<line x1="445.3" y1="68.5" x2="447.1" y2="68.5" stroke="#222" stroke-width="0.9"/>
<text transform="translate(441.7 80) translate(-4.45 0) scale(0.9500 1)" font-size="9" fill="#1a1a1a">0</text>
<line x1="445.3" y1="77.2" x2="447.1" y2="77.2" stroke="#222" stroke-width="0.9"/>
<line x1="446.1" y1="20.4" x2="447.1" y2="20.4" stroke="#999" stroke-width="0.4"/>
<line x1="446.1" y1="22.6" x2="447.1" y2="22.6" stroke="#999" stroke-width="0.4"/>
<line x1="446.1" y1="24.8" x2="447.1" y2="24.8" stroke="#999" stroke-width="0.4"/>
<line x1="446.1" y1="27" x2="447.1" y2="27" stroke="#999" stroke-width="0.4"/>
<line x1="446.1" y1="29.2" x2="447.1" y2="29.2" stroke="#999" stroke-width="0.4"/>
<line x1="446.1" y1="31.4" x2="447.1" y2="31.4" stroke="#999" stroke-width="0.4"/>
<line x1="446.1" y1="33.6" x2="447.1" y2="33.6" stroke="#999" stroke-width="0.4"/>
<line x1="446.1" y1="35.8" x2="447.1" y2="35.8" stroke="#999" stroke-width="0.4"/>
<line x1="446.1" y1="38" x2="447.1" y2="38" stroke="#999" stroke-width="0.4"/>
<line x1="446.1" y1="40.2" x2="447.1" y2="40.2" stroke="#999" stroke-width="0.4"/>
<line x1="446.1" y1="42.4" x2="447.1" y2="42.4" stroke="#999" stroke-width="0.4"/>
<line x1="446.1" y1="44.6" x2="447.1" y2="44.6" stroke="#999" stroke-width="0.4"/>
<line x1="446.1" y1="46.8" x2="447.1" y2="46.8" stroke="#999" stroke-width="0.4"/>
<line x1="446.1" y1="49" x2="447.1" y2="49" stroke="#999" stroke-width="0.4"/>
<line x1="446.1" y1="51.2" x2="447.1" y2="51.2" stroke="#999" stroke-width="0.4"/>
<line x1="446.1" y1="53.4" x2="447.1" y2="53.4" stroke="#999" stroke-width="0.4"/>
<line x1="446.1" y1="55.6" x2="447.1" y2="55.6" stroke="#999" stroke-width="0.4"/>
<line x1="446.1" y1="57.8" x2="447.1" y2="57.8" stroke="#999" stroke-width="0.4"/>
<line x1="446.1" y1="60" x2="447.1" y2="60" stroke="#999" stroke-width="0.4"/>
<line x1="446.1" y1="62.2" x2="447.1" y2="62.2" stroke="#999" stroke-width="0.4"/>
<line x1="446.1" y1="64.4" x2="447.1" y2="64.4" stroke="#999" stroke-width="0.4"/>
<line x1="446.1" y1="66.6" x2="447.1" y2="66.6" stroke="#999" stroke-width="0.4"/>
<line x1="446.1" y1="68.8" x2="447.1" y2="68.8" stroke="#999" stroke-width="0.4"/>
<line x1="446.1" y1="71" x2="447.1" y2="71" stroke="#999" stroke-width="0.4"/>
<line x1="446.1" y1="73.2" x2="447.1" y2="73.2" stroke="#999" stroke-width="0.4"/>
<line x1="446.1" y1="75.4" x2="447.1" y2="75.4" stroke="#999" stroke-width="0.4"/>
<line x1="446.1" y1="77.6" x2="447.1" y2="77.6" stroke="#999" stroke-width="0.4"/>
<line x1="446.1" y1="79.8" x2="447.1" y2="79.8" stroke="#999" stroke-width="0.4"/>
<line x1="446.1" y1="82" x2="447.1" y2="82" stroke="#999" stroke-width="0.4"/>
<line x1="451.1" y1="83.6" x2="451.1" y2="85.6" stroke="#6a6a6a" stroke-width="0.7"/>
<text transform="translate(451.4 92.4) rotate(-45) translate(-3.95 0)" font-size="7.6" fill="#1a1a1a">0</text>
<line x1="462.74" y1="83.6" x2="462.74" y2="85.6" stroke="#6a6a6a" stroke-width="0.7"/>
<text transform="translate(461.8 92.4) rotate(-45) translate(-13.41 0)" font-size="7.6" fill="#1a1a1a">50K</text>
<line x1="474.38" y1="83.6" x2="474.38" y2="85.6" stroke="#6a6a6a" stroke-width="0.7"/>
<text transform="translate(472.9 92.4) rotate(-45) translate(-17.67 0)" font-size="7.6" fill="#1a1a1a">100K</text>
<line x1="486.02" y1="83.6" x2="486.02" y2="85.6" stroke="#6a6a6a" stroke-width="0.7"/>
<text transform="translate(485.4 92.4) rotate(-45) translate(-17.67 0)" font-size="7.6" fill="#1a1a1a">150K</text>
<line x1="497.66" y1="83.6" x2="497.66" y2="85.6" stroke="#6a6a6a" stroke-width="0.7"/>
<text transform="translate(497.8 92.4) rotate(-45) translate(-17.67 0)" font-size="7.6" fill="#1a1a1a">200K</text>
<line x1="509.3" y1="83.6" x2="509.3" y2="85.6" stroke="#6a6a6a" stroke-width="0.7"/>
<text transform="translate(510.3 92.4) rotate(-45) translate(-17.67 0)" font-size="7.6" fill="#1a1a1a">250K</text>
<line x1="453.43" y1="83.6" x2="453.43" y2="84.6" stroke="#999" stroke-width="0.4"/>
<line x1="455.76" y1="83.6" x2="455.76" y2="84.6" stroke="#999" stroke-width="0.4"/>
<line x1="458.08" y1="83.6" x2="458.08" y2="84.6" stroke="#999" stroke-width="0.4"/>
<line x1="460.41" y1="83.6" x2="460.41" y2="84.6" stroke="#999" stroke-width="0.4"/>
<line x1="462.74" y1="83.6" x2="462.74" y2="84.6" stroke="#999" stroke-width="0.4"/>
<line x1="465.07" y1="83.6" x2="465.07" y2="84.6" stroke="#999" stroke-width="0.4"/>
<line x1="467.4" y1="83.6" x2="467.4" y2="84.6" stroke="#999" stroke-width="0.4"/>
<line x1="469.72" y1="83.6" x2="469.72" y2="84.6" stroke="#999" stroke-width="0.4"/>
<line x1="472.05" y1="83.6" x2="472.05" y2="84.6" stroke="#999" stroke-width="0.4"/>
<line x1="474.38" y1="83.6" x2="474.38" y2="84.6" stroke="#999" stroke-width="0.4"/>
<line x1="476.71" y1="83.6" x2="476.71" y2="84.6" stroke="#999" stroke-width="0.4"/>
<line x1="479.04" y1="83.6" x2="479.04" y2="84.6" stroke="#999" stroke-width="0.4"/>
<line x1="481.36" y1="83.6" x2="481.36" y2="84.6" stroke="#999" stroke-width="0.4"/>
<line x1="483.69" y1="83.6" x2="483.69" y2="84.6" stroke="#999" stroke-width="0.4"/>
<line x1="486.02" y1="83.6" x2="486.02" y2="84.6" stroke="#999" stroke-width="0.4"/>
<line x1="488.35" y1="83.6" x2="488.35" y2="84.6" stroke="#999" stroke-width="0.4"/>
<line x1="490.68" y1="83.6" x2="490.68" y2="84.6" stroke="#999" stroke-width="0.4"/>
<line x1="493" y1="83.6" x2="493" y2="84.6" stroke="#999" stroke-width="0.4"/>
<line x1="495.33" y1="83.6" x2="495.33" y2="84.6" stroke="#999" stroke-width="0.4"/>
<line x1="497.66" y1="83.6" x2="497.66" y2="84.6" stroke="#999" stroke-width="0.4"/>
<line x1="499.99" y1="83.6" x2="499.99" y2="84.6" stroke="#999" stroke-width="0.4"/>
<line x1="502.32" y1="83.6" x2="502.32" y2="84.6" stroke="#999" stroke-width="0.4"/>
<line x1="504.64" y1="83.6" x2="504.64" y2="84.6" stroke="#999" stroke-width="0.4"/>
<line x1="506.97" y1="83.6" x2="506.97" y2="84.6" stroke="#999" stroke-width="0.4"/>
<line x1="509.3" y1="83.6" x2="509.3" y2="84.6" stroke="#999" stroke-width="0.4"/>
<line x1="511.63" y1="83.6" x2="511.63" y2="84.6" stroke="#999" stroke-width="0.4"/>
<circle cx="325.19" cy="149.8" r="0.3" fill="#999"/>
<circle cx="327.73" cy="150.37" r="0.3" fill="#999"/>
<circle cx="332.27" cy="151.79" r="0.3" fill="#999"/>
<circle cx="327.45" cy="132.75" r="0.3" fill="#999"/>
<circle cx="332.38" cy="151.19" r="0.3" fill="#999"/>
<circle cx="333.52" cy="142.09" r="0.3" fill="#999"/>
<circle cx="328.56" cy="133.86" r="0.3" fill="#999"/>
<circle cx="331.62" cy="142.19" r="0.3" fill="#999"/>
<circle cx="317.41" cy="130.46" r="0.3" fill="#999"/>
<circle cx="332.2" cy="151.77" r="0.3" fill="#999"/>
<circle cx="312.3" cy="147.41" r="0.3" fill="#999"/>
<circle cx="320.67" cy="132.47" r="0.3" fill="#999"/>
<circle cx="317.64" cy="146.68" r="0.3" fill="#999"/>
<circle cx="332.69" cy="130.02" r="0.3" fill="#999"/>
<circle cx="325.98" cy="130.03" r="0.3" fill="#999"/>
<circle cx="328.68" cy="136.61" r="0.3" fill="#999"/>
<circle cx="332.9" cy="151.55" r="0.3" fill="#999"/>
<circle cx="323.14" cy="151.97" r="0.3" fill="#999"/>
<circle cx="318.05" cy="130.77" r="0.3" fill="#999"/>
<circle cx="325.59" cy="129.72" r="0.3" fill="#999"/>
<circle cx="315.13" cy="138.38" r="0.3" fill="#999"/>
<circle cx="325.87" cy="132.59" r="0.3" fill="#999"/>
<circle cx="311.1" cy="148.96" r="0.3" fill="#999"/>
<circle cx="318.16" cy="151.05" r="0.3" fill="#999"/>
<circle cx="333.31" cy="137.69" r="0.3" fill="#999"/>
<circle cx="321.97" cy="140.96" r="0.3" fill="#999"/>
<circle cx="326.74" cy="142.7" r="0.3" fill="#999"/>
<circle cx="324.54" cy="143.26" r="0.3" fill="#999"/>
<circle cx="334.46" cy="140.66" r="0.3" fill="#999"/>
<circle cx="321.21" cy="145.57" r="0.3" fill="#999"/>
<circle cx="316.18" cy="135.92" r="0.3" fill="#999"/>
<circle cx="335.42" cy="140.99" r="0.3" fill="#999"/>
<circle cx="324.26" cy="129.26" r="0.3" fill="#999"/>
<circle cx="320.8" cy="142.34" r="0.3" fill="#999"/>
<circle cx="310.52" cy="143.16" r="0.3" fill="#999"/>
<circle cx="326.44" cy="130.38" r="0.3" fill="#999"/>
<circle cx="326.31" cy="139.72" r="0.3" fill="#999"/>
<circle cx="327.66" cy="137.11" r="0.3" fill="#999"/>
<circle cx="328.38" cy="145.97" r="0.3" fill="#999"/>
<circle cx="310.58" cy="130.39" r="0.3" fill="#999"/>
<circle cx="327.58" cy="151.16" r="0.3" fill="#999"/>
<circle cx="316.53" cy="139.5" r="0.3" fill="#999"/>
<circle cx="325.41" cy="136.36" r="0.3" fill="#999"/>
<circle cx="319.46" cy="136.19" r="0.3" fill="#999"/>
<circle cx="319.6" cy="142.7" r="0.3" fill="#999"/>
<circle cx="312.51" cy="160.18" r="0.3" fill="#aaa"/>
<circle cx="324.31" cy="150.73" r="0.3" fill="#aaa"/>
<circle cx="319.23" cy="169.85" r="0.3" fill="#aaa"/>
<circle cx="312.75" cy="156.01" r="0.3" fill="#aaa"/>
<circle cx="325.1" cy="156.44" r="0.3" fill="#aaa"/>
<circle cx="309.68" cy="161.75" r="0.3" fill="#aaa"/>
<circle cx="322.45" cy="152.75" r="0.3" fill="#aaa"/>
<circle cx="313.05" cy="159.01" r="0.3" fill="#aaa"/>
<circle cx="325.84" cy="161.84" r="0.3" fill="#aaa"/>
<circle cx="326.39" cy="154.57" r="0.3" fill="#aaa"/>
<circle cx="313.42" cy="167.56" r="0.3" fill="#aaa"/>
<circle cx="327.12" cy="162.18" r="0.3" fill="#aaa"/>
<circle cx="310.63" cy="153.26" r="0.3" fill="#aaa"/>
<circle cx="318.24" cy="155.15" r="0.3" fill="#aaa"/>
<circle cx="325.17" cy="172.64" r="0.3" fill="#aaa"/>
<circle cx="309.59" cy="157.52" r="0.3" fill="#aaa"/>
<circle cx="325.18" cy="167.33" r="0.3" fill="#aaa"/>
<circle cx="325.16" cy="159.32" r="0.3" fill="#aaa"/>
<circle cx="308.24" cy="157.88" r="0.3" fill="#aaa"/>
<circle cx="324.85" cy="157.32" r="0.3" fill="#aaa"/>
<circle cx="313.66" cy="161.26" r="0.3" fill="#aaa"/>
<circle cx="315.49" cy="161.06" r="0.3" fill="#aaa"/>
<circle cx="328.02" cy="154.21" r="0.3" fill="#aaa"/>
<circle cx="305.12" cy="175.47" r="0.3" fill="#aaa"/>
<circle cx="327" cy="176.65" r="0.3" fill="#aaa"/>
<path d="M308.6 123.6 C309.53 123.32 311.93 122.72 314.2 121.9 C316.47 121.08 320.13 119.52 322.2 118.7 C324.27 117.88 325.23 117.13 326.6 117 C327.97 116.87 329.6 117.23 330.4 117.9 C331.2 118.57 331.47 119.82 331.4 121 C331.33 122.18 330.9 123.97 330 125 C329.1 126.03 327.67 126.4 326 127.2 C324.33 128 321.97 128.8 320 129.8 C318.03 130.8 315.7 132.2 314.2 133.2 C312.7 134.2 311.82 134.85 311 135.8 C310.18 136.75 309.58 138.38 309.3 138.9" fill="none" stroke="#8a8a8a" stroke-width="0.5"/>
<path d="M308.6 125.6 C309.5 125.3 312.1 124.57 314 123.8 C315.9 123.03 317.93 121.82 320 121 C322.07 120.18 324.85 119.1 326.4 118.9 C327.95 118.7 328.77 119.18 329.3 119.8 C329.83 120.42 329.88 121.77 329.6 122.6 C329.32 123.43 329.03 124.07 327.6 124.8 C326.17 125.53 323.27 126.13 321 127 C318.73 127.87 316.03 128.83 314 130 C311.97 131.17 309.67 133.33 308.8 134" fill="none" stroke="#8a8a8a" stroke-width="0.5"/>
<path d="M308.6 128 C309.42 127.67 311.77 126.67 313.5 126 C315.23 125.33 317.33 124.53 319 124 C320.67 123.47 322.5 122.8 323.5 122.8 C324.5 122.8 325.42 123.53 325 124 C324.58 124.47 322.83 124.93 321 125.6 C319.17 126.27 316.03 127.13 314 128 C311.97 128.87 309.67 130.33 308.8 130.8" fill="none" stroke="#999" stroke-width="0.45"/>
<circle cx="326.8" cy="121.8" r="1.9" fill="none" stroke="#888" stroke-width="0.5"/>
<rect x="300.9" y="120.3" width="7.8" height="42" rx="3.6" fill="#777" filter="url(#bl05)"/>
<rect x="301.5" y="121.0" width="6.6" height="40.3" rx="3.2" fill="#000"/>
<ellipse cx="304.8" cy="123.6" rx="2.6" ry="2.2" fill="#555" filter="url(#bl05)"/>
<path d="M304.8 126 L304.71 128.2 L305.43 130.4 L305.4 132.6 L304.41 134.8 L305.14 137 L305.27 139.2 L305.03 141.4 L304.83 143.6 L304.5 145.8 L304.58 148 L304.42 150.2 L304.2 152.4 L304.92 154.6 L304.5 156.8 L305.23 159" fill="none" stroke="#8a8a8a" stroke-width="0.7"/>
<ellipse cx="304.8" cy="159.3" rx="2.0" ry="1.4" fill="#444" filter="url(#bl05)"/>
<line x1="308.6" y1="113.2" x2="308.6" y2="178.4" stroke="#6680cc" stroke-width="0.8"/>
<line x1="281.6" y1="149.1" x2="346.6" y2="149.1" stroke="#6680cc" stroke-width="0.8"/>
<line x1="281.6" y1="113.2" x2="347.1" y2="113.2" stroke="#8e8e8e" stroke-width="1"/>
<line x1="346.6" y1="113.2" x2="346.6" y2="178.4" stroke="#8e8e8e" stroke-width="1"/>
<line x1="281.6" y1="112.7" x2="281.6" y2="178.9" stroke="#3a3a3a" stroke-width="1"/>
<line x1="281.1" y1="178.4" x2="347.1" y2="178.4" stroke="#3a3a3a" stroke-width="1"/>
<text transform="translate(283 119.4) translate(-0.35 0) scale(1.1000 1)" font-size="6.3" fill="#4862c6">65.3</text>
<text transform="translate(345.8 119.4) translate(-13.27 0) scale(1.1000 1)" font-size="6.3" fill="#4862c6">15.4</text>
<text transform="translate(283 176.5) translate(-0.52 0) scale(1.1000 1)" font-size="6.3" fill="#4862c6">18.9</text>
<text transform="translate(345.8 176.5) translate(-9.42 0) scale(1.1000 1)" font-size="6.3" fill="#4862c6">0.4</text>
<text transform="translate(277.6 120.9) translate(-9.19 0) scale(0.9500 1)" font-size="9" fill="#1a1a1a">10</text>
<text transform="translate(277.75 117.9) translate(-0.17 0)" font-size="4.3" fill="#1a1a1a" stroke="#1a1a1a" stroke-width="0.1">5</text>
<line x1="279.8" y1="118.3" x2="281.6" y2="118.3" stroke="#222" stroke-width="0.9"/>
<text transform="translate(277.6 137.2) translate(-9.19 0) scale(0.9500 1)" font-size="9" fill="#1a1a1a">10</text>
<text transform="translate(277.75 134.2) translate(-0.09 0)" font-size="4.3" fill="#1a1a1a" stroke="#1a1a1a" stroke-width="0.1">4</text>
<line x1="279.8" y1="134.6" x2="281.6" y2="134.6" stroke="#222" stroke-width="0.9"/>
<text transform="translate(277.6 153.4) translate(-9.19 0) scale(0.9500 1)" font-size="9" fill="#1a1a1a">10</text>
<text transform="translate(277.75 150.4) translate(-0.17 0)" font-size="4.3" fill="#1a1a1a" stroke="#1a1a1a" stroke-width="0.1">3</text>
<line x1="279.8" y1="150.8" x2="281.6" y2="150.8" stroke="#222" stroke-width="0.9"/>
<text transform="translate(276.2 170.2) translate(-4.45 0) scale(0.9500 1)" font-size="9" fill="#1a1a1a">0</text>
<line x1="279.8" y1="167.4" x2="281.6" y2="167.4" stroke="#222" stroke-width="0.9"/>
<line x1="280.6" y1="115.4" x2="281.6" y2="115.4" stroke="#999" stroke-width="0.4"/>
<line x1="280.6" y1="117.6" x2="281.6" y2="117.6" stroke="#999" stroke-width="0.4"/>
<line x1="280.6" y1="119.8" x2="281.6" y2="119.8" stroke="#999" stroke-width="0.4"/>
<line x1="280.6" y1="122" x2="281.6" y2="122" stroke="#999" stroke-width="0.4"/>
<line x1="280.6" y1="124.2" x2="281.6" y2="124.2" stroke="#999" stroke-width="0.4"/>
<line x1="280.6" y1="126.4" x2="281.6" y2="126.4" stroke="#999" stroke-width="0.4"/>
<line x1="280.6" y1="128.6" x2="281.6" y2="128.6" stroke="#999" stroke-width="0.4"/>
<line x1="280.6" y1="130.8" x2="281.6" y2="130.8" stroke="#999" stroke-width="0.4"/>
<line x1="280.6" y1="133" x2="281.6" y2="133" stroke="#999" stroke-width="0.4"/>
<line x1="280.6" y1="135.2" x2="281.6" y2="135.2" stroke="#999" stroke-width="0.4"/>
<line x1="280.6" y1="137.4" x2="281.6" y2="137.4" stroke="#999" stroke-width="0.4"/>
<line x1="280.6" y1="139.6" x2="281.6" y2="139.6" stroke="#999" stroke-width="0.4"/>
<line x1="280.6" y1="141.8" x2="281.6" y2="141.8" stroke="#999" stroke-width="0.4"/>
<line x1="280.6" y1="144" x2="281.6" y2="144" stroke="#999" stroke-width="0.4"/>
<line x1="280.6" y1="146.2" x2="281.6" y2="146.2" stroke="#999" stroke-width="0.4"/>
<line x1="280.6" y1="148.4" x2="281.6" y2="148.4" stroke="#999" stroke-width="0.4"/>
<line x1="280.6" y1="150.6" x2="281.6" y2="150.6" stroke="#999" stroke-width="0.4"/>
<line x1="280.6" y1="152.8" x2="281.6" y2="152.8" stroke="#999" stroke-width="0.4"/>
<line x1="280.6" y1="155" x2="281.6" y2="155" stroke="#999" stroke-width="0.4"/>
<line x1="280.6" y1="157.2" x2="281.6" y2="157.2" stroke="#999" stroke-width="0.4"/>
<line x1="280.6" y1="159.4" x2="281.6" y2="159.4" stroke="#999" stroke-width="0.4"/>
<line x1="280.6" y1="161.6" x2="281.6" y2="161.6" stroke="#999" stroke-width="0.4"/>
<line x1="280.6" y1="163.8" x2="281.6" y2="163.8" stroke="#999" stroke-width="0.4"/>
<line x1="280.6" y1="166" x2="281.6" y2="166" stroke="#999" stroke-width="0.4"/>
<line x1="280.6" y1="168.2" x2="281.6" y2="168.2" stroke="#999" stroke-width="0.4"/>
<line x1="280.6" y1="170.4" x2="281.6" y2="170.4" stroke="#999" stroke-width="0.4"/>
<line x1="280.6" y1="172.6" x2="281.6" y2="172.6" stroke="#999" stroke-width="0.4"/>
<line x1="280.6" y1="174.8" x2="281.6" y2="174.8" stroke="#999" stroke-width="0.4"/>
<line x1="280.6" y1="177" x2="281.6" y2="177" stroke="#999" stroke-width="0.4"/>
<line x1="285.6" y1="178.4" x2="285.6" y2="180.4" stroke="#6a6a6a" stroke-width="0.7"/>
<text transform="translate(285.9 187.2) rotate(-45) translate(-3.95 0)" font-size="7.6" fill="#1a1a1a">0</text>
<line x1="297.24" y1="178.4" x2="297.24" y2="180.4" stroke="#6a6a6a" stroke-width="0.7"/>
<text transform="translate(296.3 187.2) rotate(-45) translate(-13.41 0)" font-size="7.6" fill="#1a1a1a">50K</text>
<line x1="308.88" y1="178.4" x2="308.88" y2="180.4" stroke="#6a6a6a" stroke-width="0.7"/>
<text transform="translate(307.4 187.2) rotate(-45) translate(-17.67 0)" font-size="7.6" fill="#1a1a1a">100K</text>
<line x1="320.52" y1="178.4" x2="320.52" y2="180.4" stroke="#6a6a6a" stroke-width="0.7"/>
<text transform="translate(319.9 187.2) rotate(-45) translate(-17.67 0)" font-size="7.6" fill="#1a1a1a">150K</text>
<line x1="332.16" y1="178.4" x2="332.16" y2="180.4" stroke="#6a6a6a" stroke-width="0.7"/>
<text transform="translate(332.3 187.2) rotate(-45) translate(-17.67 0)" font-size="7.6" fill="#1a1a1a">200K</text>
<line x1="343.8" y1="178.4" x2="343.8" y2="180.4" stroke="#6a6a6a" stroke-width="0.7"/>
<text transform="translate(344.8 187.2) rotate(-45) translate(-17.67 0)" font-size="7.6" fill="#1a1a1a">250K</text>
<line x1="287.93" y1="178.4" x2="287.93" y2="179.4" stroke="#999" stroke-width="0.4"/>
<line x1="290.26" y1="178.4" x2="290.26" y2="179.4" stroke="#999" stroke-width="0.4"/>
<line x1="292.58" y1="178.4" x2="292.58" y2="179.4" stroke="#999" stroke-width="0.4"/>
<line x1="294.91" y1="178.4" x2="294.91" y2="179.4" stroke="#999" stroke-width="0.4"/>
<line x1="297.24" y1="178.4" x2="297.24" y2="179.4" stroke="#999" stroke-width="0.4"/>
<line x1="299.57" y1="178.4" x2="299.57" y2="179.4" stroke="#999" stroke-width="0.4"/>
<line x1="301.9" y1="178.4" x2="301.9" y2="179.4" stroke="#999" stroke-width="0.4"/>
<line x1="304.22" y1="178.4" x2="304.22" y2="179.4" stroke="#999" stroke-width="0.4"/>
<line x1="306.55" y1="178.4" x2="306.55" y2="179.4" stroke="#999" stroke-width="0.4"/>
<line x1="308.88" y1="178.4" x2="308.88" y2="179.4" stroke="#999" stroke-width="0.4"/>
<line x1="311.21" y1="178.4" x2="311.21" y2="179.4" stroke="#999" stroke-width="0.4"/>
<line x1="313.54" y1="178.4" x2="313.54" y2="179.4" stroke="#999" stroke-width="0.4"/>
<line x1="315.86" y1="178.4" x2="315.86" y2="179.4" stroke="#999" stroke-width="0.4"/>
<line x1="318.19" y1="178.4" x2="318.19" y2="179.4" stroke="#999" stroke-width="0.4"/>
<line x1="320.52" y1="178.4" x2="320.52" y2="179.4" stroke="#999" stroke-width="0.4"/>
<line x1="322.85" y1="178.4" x2="322.85" y2="179.4" stroke="#999" stroke-width="0.4"/>
<line x1="325.18" y1="178.4" x2="325.18" y2="179.4" stroke="#999" stroke-width="0.4"/>
<line x1="327.5" y1="178.4" x2="327.5" y2="179.4" stroke="#999" stroke-width="0.4"/>
<line x1="329.83" y1="178.4" x2="329.83" y2="179.4" stroke="#999" stroke-width="0.4"/>
<line x1="332.16" y1="178.4" x2="332.16" y2="179.4" stroke="#999" stroke-width="0.4"/>
<line x1="334.49" y1="178.4" x2="334.49" y2="179.4" stroke="#999" stroke-width="0.4"/>
<line x1="336.82" y1="178.4" x2="336.82" y2="179.4" stroke="#999" stroke-width="0.4"/>
<line x1="339.14" y1="178.4" x2="339.14" y2="179.4" stroke="#999" stroke-width="0.4"/>
<line x1="341.47" y1="178.4" x2="341.47" y2="179.4" stroke="#999" stroke-width="0.4"/>
<line x1="343.8" y1="178.4" x2="343.8" y2="179.4" stroke="#999" stroke-width="0.4"/>
<line x1="346.13" y1="178.4" x2="346.13" y2="179.4" stroke="#999" stroke-width="0.4"/>
<circle cx="390.06" cy="163.57" r="0.3" fill="#999"/>
<circle cx="398.17" cy="164.5" r="0.3" fill="#999"/>
<circle cx="400.71" cy="163.39" r="0.3" fill="#999"/>
<circle cx="396.71" cy="122.6" r="0.3" fill="#999"/>
<circle cx="398.82" cy="129.9" r="0.3" fill="#999"/>
<circle cx="393.25" cy="152.49" r="0.3" fill="#999"/>
<circle cx="396.06" cy="141.03" r="0.3" fill="#999"/>
<circle cx="401.24" cy="150.16" r="0.3" fill="#999"/>
<circle cx="393.77" cy="133.61" r="0.3" fill="#999"/>
<circle cx="400.27" cy="143.95" r="0.3" fill="#999"/>
<circle cx="399.28" cy="138.18" r="0.3" fill="#999"/>
<circle cx="391.97" cy="146.59" r="0.3" fill="#999"/>
<circle cx="399.71" cy="129.88" r="0.3" fill="#999"/>
<circle cx="399.4" cy="164.4" r="0.3" fill="#999"/>
<circle cx="399.58" cy="159.88" r="0.3" fill="#999"/>
<circle cx="389.59" cy="150.92" r="0.3" fill="#999"/>
<circle cx="400.28" cy="124.3" r="0.3" fill="#999"/>
<circle cx="392.89" cy="134.35" r="0.3" fill="#999"/>
<circle cx="396.09" cy="141.46" r="0.3" fill="#999"/>
<circle cx="395.41" cy="157.72" r="0.3" fill="#999"/>
<circle cx="389.52" cy="124.52" r="0.3" fill="#999"/>
<circle cx="391.09" cy="127.73" r="0.3" fill="#999"/>
<circle cx="390.36" cy="166.84" r="0.3" fill="#999"/>
<circle cx="400.18" cy="125.96" r="0.3" fill="#999"/>
<circle cx="395.78" cy="136.53" r="0.3" fill="#999"/>
<circle cx="393.43" cy="138.16" r="0.3" fill="#999"/>
<circle cx="397.59" cy="148.98" r="0.3" fill="#999"/>
<circle cx="394.01" cy="130.79" r="0.3" fill="#999"/>
<circle cx="393.61" cy="127.69" r="0.3" fill="#999"/>
<circle cx="396.44" cy="154.94" r="0.3" fill="#999"/>
<circle cx="394.25" cy="125.68" r="0.3" fill="#999"/>
<circle cx="391.73" cy="139.17" r="0.3" fill="#999"/>
<circle cx="397.06" cy="158" r="0.3" fill="#999"/>
<circle cx="394.25" cy="158.85" r="0.3" fill="#999"/>
<circle cx="397.29" cy="141.85" r="0.3" fill="#999"/>
<circle cx="394.16" cy="144.82" r="0.3" fill="#999"/>
<circle cx="398.29" cy="141.34" r="0.3" fill="#999"/>
<circle cx="398.18" cy="143.2" r="0.3" fill="#999"/>
<circle cx="392.56" cy="146.65" r="0.3" fill="#999"/>
<circle cx="398.19" cy="125.29" r="0.3" fill="#999"/>
<circle cx="394.81" cy="141.59" r="0.3" fill="#999"/>
<circle cx="400.5" cy="165.08" r="0.3" fill="#999"/>
<circle cx="394.18" cy="163.3" r="0.3" fill="#999"/>
<circle cx="399.39" cy="134.06" r="0.3" fill="#999"/>
<circle cx="395.3" cy="127.66" r="0.3" fill="#999"/>
<circle cx="399.67" cy="152.47" r="0.3" fill="#999"/>
<circle cx="400.59" cy="158.45" r="0.3" fill="#999"/>
<circle cx="397.84" cy="155.75" r="0.3" fill="#999"/>
<circle cx="396.55" cy="126.74" r="0.3" fill="#999"/>
<circle cx="396.85" cy="122.23" r="0.3" fill="#999"/>
<circle cx="391.29" cy="157.62" r="0.3" fill="#999"/>
<circle cx="390.05" cy="126.22" r="0.3" fill="#999"/>
<circle cx="390.74" cy="162.5" r="0.3" fill="#999"/>
<circle cx="391.74" cy="123.08" r="0.3" fill="#999"/>
<circle cx="400.02" cy="127.58" r="0.3" fill="#999"/>
<circle cx="416.1" cy="156.39" r="0.28" fill="#bbb"/>
<circle cx="415.9" cy="172.29" r="0.28" fill="#bbb"/>
<circle cx="409.48" cy="163.53" r="0.28" fill="#bbb"/>
<circle cx="395.91" cy="161.74" r="0.28" fill="#bbb"/>
<circle cx="407.78" cy="158.76" r="0.28" fill="#bbb"/>
<circle cx="397.67" cy="160.69" r="0.28" fill="#bbb"/>
<circle cx="418.36" cy="121.48" r="0.28" fill="#bbb"/>
<circle cx="403.11" cy="150.15" r="0.28" fill="#bbb"/>
<circle cx="415.7" cy="131.8" r="0.28" fill="#bbb"/>
<circle cx="399.49" cy="132.25" r="0.28" fill="#bbb"/>
<circle cx="410.4" cy="160.95" r="0.28" fill="#bbb"/>
<circle cx="404.84" cy="138.95" r="0.28" fill="#bbb"/>
<circle cx="404.92" cy="137.97" r="0.28" fill="#bbb"/>
<circle cx="405.46" cy="122.75" r="0.28" fill="#bbb"/>
<circle cx="407.51" cy="173.46" r="0.28" fill="#bbb"/>
<circle cx="405.32" cy="160.6" r="0.28" fill="#bbb"/>
<circle cx="399.02" cy="157.38" r="0.28" fill="#bbb"/>
<circle cx="413.9" cy="156.41" r="0.28" fill="#bbb"/>
<circle cx="407.93" cy="145.57" r="0.28" fill="#bbb"/>
<circle cx="411.07" cy="169.15" r="0.28" fill="#bbb"/>
<circle cx="398.73" cy="123.46" r="0.28" fill="#bbb"/>
<circle cx="413.7" cy="170.25" r="0.28" fill="#bbb"/>
<circle cx="407.93" cy="143.25" r="0.28" fill="#bbb"/>
<circle cx="412.97" cy="128.61" r="0.28" fill="#bbb"/>
<circle cx="401.68" cy="129.35" r="0.28" fill="#bbb"/>
<ellipse cx="386.75" cy="147.1" rx="3.6" ry="20.4" fill="url(#halo2)" stroke="#888" stroke-width="0.4"/>
<ellipse cx="386.75" cy="148.2" rx="2.6" ry="13.0" fill="#000" filter="url(#bl05)"/>
<path d="M386.9 138 L387 140 L386.68 142 L386.58 144 L387.13 146 L387.44 148 L386.66 150 L387.15 152 L386.8 154 L387.32 156 L387 158" fill="none" stroke="#666" stroke-width="0.5"/>
<line x1="390.3" y1="113.2" x2="390.3" y2="178.4" stroke="#6680cc" stroke-width="0.8"/>
<line x1="363.7" y1="150.3" x2="429.2" y2="150.3" stroke="#6680cc" stroke-width="0.8"/>
<line x1="363.7" y1="113.2" x2="429.7" y2="113.2" stroke="#8e8e8e" stroke-width="1"/>
<line x1="429.2" y1="113.2" x2="429.2" y2="178.4" stroke="#8e8e8e" stroke-width="1"/>
<line x1="363.7" y1="112.7" x2="363.7" y2="178.9" stroke="#3a3a3a" stroke-width="1"/>
<line x1="363.2" y1="178.4" x2="429.7" y2="178.4" stroke="#3a3a3a" stroke-width="1"/>
<text transform="translate(365.1 119.4) translate(-0.35 0) scale(1.1000 1)" font-size="6.3" fill="#4862c6">61.3</text>
<text transform="translate(428.4 119.4) translate(-9.32 0) scale(1.1000 1)" font-size="6.3" fill="#4862c6">2.1</text>
<text transform="translate(365.1 176.5) translate(-0.28 0) scale(1.1000 1)" font-size="6.3" fill="#4862c6">35.9</text>
<text transform="translate(428.4 176.5) translate(-9.36 0) scale(1.1000 1)" font-size="6.3" fill="#4862c6">0.8</text>
<text transform="translate(359.7 120.9) translate(-9.19 0) scale(0.9500 1)" font-size="9" fill="#1a1a1a">10</text>
<text transform="translate(359.85 117.9) translate(-0.17 0)" font-size="4.3" fill="#1a1a1a" stroke="#1a1a1a" stroke-width="0.1">5</text>
<line x1="361.9" y1="118.3" x2="363.7" y2="118.3" stroke="#222" stroke-width="0.9"/>
<text transform="translate(359.7 137.2) translate(-9.19 0) scale(0.9500 1)" font-size="9" fill="#1a1a1a">10</text>
<text transform="translate(359.85 134.2) translate(-0.09 0)" font-size="4.3" fill="#1a1a1a" stroke="#1a1a1a" stroke-width="0.1">4</text>
<line x1="361.9" y1="134.6" x2="363.7" y2="134.6" stroke="#222" stroke-width="0.9"/>
<text transform="translate(359.7 153.4) translate(-9.19 0) scale(0.9500 1)" font-size="9" fill="#1a1a1a">10</text>
<text transform="translate(359.85 150.4) translate(-0.17 0)" font-size="4.3" fill="#1a1a1a" stroke="#1a1a1a" stroke-width="0.1">3</text>
<line x1="361.9" y1="150.8" x2="363.7" y2="150.8" stroke="#222" stroke-width="0.9"/>
<text transform="translate(358.3 170.2) translate(-4.45 0) scale(0.9500 1)" font-size="9" fill="#1a1a1a">0</text>
<line x1="361.9" y1="167.4" x2="363.7" y2="167.4" stroke="#222" stroke-width="0.9"/>
<line x1="362.7" y1="115.4" x2="363.7" y2="115.4" stroke="#999" stroke-width="0.4"/>
<line x1="362.7" y1="117.6" x2="363.7" y2="117.6" stroke="#999" stroke-width="0.4"/>
<line x1="362.7" y1="119.8" x2="363.7" y2="119.8" stroke="#999" stroke-width="0.4"/>
<line x1="362.7" y1="122" x2="363.7" y2="122" stroke="#999" stroke-width="0.4"/>
<line x1="362.7" y1="124.2" x2="363.7" y2="124.2" stroke="#999" stroke-width="0.4"/>
<line x1="362.7" y1="126.4" x2="363.7" y2="126.4" stroke="#999" stroke-width="0.4"/>
<line x1="362.7" y1="128.6" x2="363.7" y2="128.6" stroke="#999" stroke-width="0.4"/>
<line x1="362.7" y1="130.8" x2="363.7" y2="130.8" stroke="#999" stroke-width="0.4"/>
<line x1="362.7" y1="133" x2="363.7" y2="133" stroke="#999" stroke-width="0.4"/>
<line x1="362.7" y1="135.2" x2="363.7" y2="135.2" stroke="#999" stroke-width="0.4"/>
<line x1="362.7" y1="137.4" x2="363.7" y2="137.4" stroke="#999" stroke-width="0.4"/>
<line x1="362.7" y1="139.6" x2="363.7" y2="139.6" stroke="#999" stroke-width="0.4"/>
<line x1="362.7" y1="141.8" x2="363.7" y2="141.8" stroke="#999" stroke-width="0.4"/>
<line x1="362.7" y1="144" x2="363.7" y2="144" stroke="#999" stroke-width="0.4"/>
<line x1="362.7" y1="146.2" x2="363.7" y2="146.2" stroke="#999" stroke-width="0.4"/>
<line x1="362.7" y1="148.4" x2="363.7" y2="148.4" stroke="#999" stroke-width="0.4"/>
<line x1="362.7" y1="150.6" x2="363.7" y2="150.6" stroke="#999" stroke-width="0.4"/>
<line x1="362.7" y1="152.8" x2="363.7" y2="152.8" stroke="#999" stroke-width="0.4"/>
<line x1="362.7" y1="155" x2="363.7" y2="155" stroke="#999" stroke-width="0.4"/>
<line x1="362.7" y1="157.2" x2="363.7" y2="157.2" stroke="#999" stroke-width="0.4"/>
<line x1="362.7" y1="159.4" x2="363.7" y2="159.4" stroke="#999" stroke-width="0.4"/>
<line x1="362.7" y1="161.6" x2="363.7" y2="161.6" stroke="#999" stroke-width="0.4"/>
<line x1="362.7" y1="163.8" x2="363.7" y2="163.8" stroke="#999" stroke-width="0.4"/>
<line x1="362.7" y1="166" x2="363.7" y2="166" stroke="#999" stroke-width="0.4"/>
<line x1="362.7" y1="168.2" x2="363.7" y2="168.2" stroke="#999" stroke-width="0.4"/>
<line x1="362.7" y1="170.4" x2="363.7" y2="170.4" stroke="#999" stroke-width="0.4"/>
<line x1="362.7" y1="172.6" x2="363.7" y2="172.6" stroke="#999" stroke-width="0.4"/>
<line x1="362.7" y1="174.8" x2="363.7" y2="174.8" stroke="#999" stroke-width="0.4"/>
<line x1="362.7" y1="177" x2="363.7" y2="177" stroke="#999" stroke-width="0.4"/>
<line x1="367.7" y1="178.4" x2="367.7" y2="180.4" stroke="#6a6a6a" stroke-width="0.7"/>
<text transform="translate(368 187.2) rotate(-45) translate(-3.95 0)" font-size="7.6" fill="#1a1a1a">0</text>
<line x1="379.34" y1="178.4" x2="379.34" y2="180.4" stroke="#6a6a6a" stroke-width="0.7"/>
<text transform="translate(378.4 187.2) rotate(-45) translate(-13.41 0)" font-size="7.6" fill="#1a1a1a">50K</text>
<line x1="390.98" y1="178.4" x2="390.98" y2="180.4" stroke="#6a6a6a" stroke-width="0.7"/>
<text transform="translate(389.5 187.2) rotate(-45) translate(-17.67 0)" font-size="7.6" fill="#1a1a1a">100K</text>
<line x1="402.62" y1="178.4" x2="402.62" y2="180.4" stroke="#6a6a6a" stroke-width="0.7"/>
<text transform="translate(402 187.2) rotate(-45) translate(-17.67 0)" font-size="7.6" fill="#1a1a1a">150K</text>
<line x1="414.26" y1="178.4" x2="414.26" y2="180.4" stroke="#6a6a6a" stroke-width="0.7"/>
<text transform="translate(414.4 187.2) rotate(-45) translate(-17.67 0)" font-size="7.6" fill="#1a1a1a">200K</text>
<line x1="425.9" y1="178.4" x2="425.9" y2="180.4" stroke="#6a6a6a" stroke-width="0.7"/>
<text transform="translate(426.9 187.2) rotate(-45) translate(-17.67 0)" font-size="7.6" fill="#1a1a1a">250K</text>
<line x1="370.03" y1="178.4" x2="370.03" y2="179.4" stroke="#999" stroke-width="0.4"/>
<line x1="372.36" y1="178.4" x2="372.36" y2="179.4" stroke="#999" stroke-width="0.4"/>
<line x1="374.68" y1="178.4" x2="374.68" y2="179.4" stroke="#999" stroke-width="0.4"/>
<line x1="377.01" y1="178.4" x2="377.01" y2="179.4" stroke="#999" stroke-width="0.4"/>
<line x1="379.34" y1="178.4" x2="379.34" y2="179.4" stroke="#999" stroke-width="0.4"/>
<line x1="381.67" y1="178.4" x2="381.67" y2="179.4" stroke="#999" stroke-width="0.4"/>
<line x1="384" y1="178.4" x2="384" y2="179.4" stroke="#999" stroke-width="0.4"/>
<line x1="386.32" y1="178.4" x2="386.32" y2="179.4" stroke="#999" stroke-width="0.4"/>
<line x1="388.65" y1="178.4" x2="388.65" y2="179.4" stroke="#999" stroke-width="0.4"/>
<line x1="390.98" y1="178.4" x2="390.98" y2="179.4" stroke="#999" stroke-width="0.4"/>
<line x1="393.31" y1="178.4" x2="393.31" y2="179.4" stroke="#999" stroke-width="0.4"/>
<line x1="395.64" y1="178.4" x2="395.64" y2="179.4" stroke="#999" stroke-width="0.4"/>
<line x1="397.96" y1="178.4" x2="397.96" y2="179.4" stroke="#999" stroke-width="0.4"/>
<line x1="400.29" y1="178.4" x2="400.29" y2="179.4" stroke="#999" stroke-width="0.4"/>
<line x1="402.62" y1="178.4" x2="402.62" y2="179.4" stroke="#999" stroke-width="0.4"/>
<line x1="404.95" y1="178.4" x2="404.95" y2="179.4" stroke="#999" stroke-width="0.4"/>
<line x1="407.28" y1="178.4" x2="407.28" y2="179.4" stroke="#999" stroke-width="0.4"/>
<line x1="409.6" y1="178.4" x2="409.6" y2="179.4" stroke="#999" stroke-width="0.4"/>
<line x1="411.93" y1="178.4" x2="411.93" y2="179.4" stroke="#999" stroke-width="0.4"/>
<line x1="414.26" y1="178.4" x2="414.26" y2="179.4" stroke="#999" stroke-width="0.4"/>
<line x1="416.59" y1="178.4" x2="416.59" y2="179.4" stroke="#999" stroke-width="0.4"/>
<line x1="418.92" y1="178.4" x2="418.92" y2="179.4" stroke="#999" stroke-width="0.4"/>
<line x1="421.24" y1="178.4" x2="421.24" y2="179.4" stroke="#999" stroke-width="0.4"/>
<line x1="423.57" y1="178.4" x2="423.57" y2="179.4" stroke="#999" stroke-width="0.4"/>
<line x1="425.9" y1="178.4" x2="425.9" y2="179.4" stroke="#999" stroke-width="0.4"/>
<line x1="428.23" y1="178.4" x2="428.23" y2="179.4" stroke="#999" stroke-width="0.4"/>
<circle cx="482.81" cy="129.14" r="0.28" fill="#bbb"/>
<circle cx="478.42" cy="140.14" r="0.28" fill="#bbb"/>
<circle cx="484.89" cy="127.23" r="0.28" fill="#bbb"/>
<circle cx="484.49" cy="133.53" r="0.28" fill="#bbb"/>
<circle cx="491.94" cy="126.03" r="0.28" fill="#bbb"/>
<circle cx="495.84" cy="140.14" r="0.28" fill="#bbb"/>
<circle cx="488.78" cy="139.66" r="0.28" fill="#bbb"/>
<circle cx="493.02" cy="154.51" r="0.28" fill="#bbb"/>
<circle cx="488.03" cy="140.21" r="0.28" fill="#bbb"/>
<circle cx="490.97" cy="155.98" r="0.28" fill="#bbb"/>
<circle cx="485.2" cy="150.81" r="0.28" fill="#bbb"/>
<circle cx="495.28" cy="139.63" r="0.28" fill="#bbb"/>
<circle cx="482.13" cy="129.86" r="0.28" fill="#bbb"/>
<circle cx="490.92" cy="148.36" r="0.28" fill="#bbb"/>
<circle cx="495.26" cy="155.86" r="0.28" fill="#bbb"/>
<circle cx="482.36" cy="127.96" r="0.28" fill="#bbb"/>
<circle cx="482.66" cy="127.86" r="0.28" fill="#bbb"/>
<circle cx="490.69" cy="156.06" r="0.28" fill="#bbb"/>
<circle cx="494.2" cy="130.71" r="0.28" fill="#bbb"/>
<circle cx="493.57" cy="133.16" r="0.28" fill="#bbb"/>
<circle cx="485.62" cy="150.62" r="0.28" fill="#bbb"/>
<circle cx="479.55" cy="123.89" r="0.28" fill="#bbb"/>
<ellipse cx="473.75" cy="148.35" rx="2.5" ry="16.8" fill="#555" filter="url(#bl05)"/>
<ellipse cx="473.75" cy="148.35" rx="2.0" ry="16.0" fill="#000"/>
<circle cx="474.42" cy="142.46" r="0.37" fill="#999"/>
<circle cx="473.91" cy="153.59" r="0.3" fill="#999"/>
<circle cx="473.42" cy="146.65" r="0.4" fill="#999"/>
<circle cx="473.17" cy="150.97" r="0.49" fill="#999"/>
<circle cx="473.53" cy="149.79" r="0.32" fill="#999"/>
<circle cx="473.3" cy="153.3" r="0.32" fill="#999"/>
<circle cx="474.52" cy="160.35" r="0.32" fill="#999"/>
<circle cx="474.63" cy="144.85" r="0.45" fill="#999"/>
<circle cx="474.26" cy="142.57" r="0.44" fill="#999"/>
<circle cx="474.06" cy="157.38" r="0.35" fill="#999"/>
<circle cx="474.26" cy="161.88" r="0.43" fill="#999"/>
<circle cx="473.82" cy="137.29" r="0.4" fill="#999"/>
<circle cx="473.45" cy="154.82" r="0.44" fill="#999"/>
<circle cx="473.88" cy="139.28" r="0.43" fill="#999"/>
<circle cx="474.01" cy="139.19" r="0.48" fill="#999"/>
<circle cx="474.06" cy="137.57" r="0.49" fill="#999"/>
<path d="M473.9 136 L473.47 138 L473.7 140 L474.16 142 L474.02 144 L473.97 146 L474.08 148 L473.85 150 L473.67 152 L473.51 154 L473.38 156 L474.16 158 L474.21 160" fill="none" stroke="#555" stroke-width="0.45"/>
<line x1="477.5" y1="113.2" x2="477.5" y2="178.4" stroke="#6680cc" stroke-width="0.8"/>
<line x1="447.1" y1="148.5" x2="512.4" y2="148.5" stroke="#6680cc" stroke-width="0.8"/>
<line x1="447.1" y1="113.2" x2="512.9" y2="113.2" stroke="#8e8e8e" stroke-width="1"/>
<line x1="512.4" y1="113.2" x2="512.4" y2="178.4" stroke="#8e8e8e" stroke-width="1"/>
<line x1="447.1" y1="112.7" x2="447.1" y2="178.9" stroke="#3a3a3a" stroke-width="1"/>
<line x1="446.6" y1="178.4" x2="512.9" y2="178.4" stroke="#3a3a3a" stroke-width="1"/>
<text transform="translate(448.5 119.4) translate(-0.28 0) scale(1.1000 1)" font-size="6.3" fill="#4862c6">50.3</text>
<text transform="translate(511.6 119.4) translate(-13.27 0) scale(1.1000 1)" font-size="6.3" fill="#4862c6">0.04</text>
<text transform="translate(448.5 176.5) translate(-0.14 0) scale(1.1000 1)" font-size="6.3" fill="#4862c6">49.7</text>
<text transform="translate(511.6 176.5) translate(-13.13 0) scale(1.1000 1)" font-size="6.3" fill="#4862c6">0.02</text>
<text transform="translate(443.1 121.9) translate(-9.19 0) scale(0.9500 1)" font-size="9" fill="#1a1a1a">10</text>
<text transform="translate(443.25 118.9) translate(-0.17 0)" font-size="4.3" fill="#1a1a1a" stroke="#1a1a1a" stroke-width="0.1">5</text>
<line x1="445.3" y1="119.3" x2="447.1" y2="119.3" stroke="#222" stroke-width="0.9"/>
<text transform="translate(443.1 137.1) translate(-9.19 0) scale(0.9500 1)" font-size="9" fill="#1a1a1a">10</text>
<text transform="translate(443.25 134.1) translate(-0.09 0)" font-size="4.3" fill="#1a1a1a" stroke="#1a1a1a" stroke-width="0.1">4</text>
<line x1="445.3" y1="134.5" x2="447.1" y2="134.5" stroke="#222" stroke-width="0.9"/>
<text transform="translate(443.1 151.6) translate(-9.19 0) scale(0.9500 1)" font-size="9" fill="#1a1a1a">10</text>
<text transform="translate(443.25 148.6) translate(-0.17 0)" font-size="4.3" fill="#1a1a1a" stroke="#1a1a1a" stroke-width="0.1">3</text>
<line x1="445.3" y1="149" x2="447.1" y2="149" stroke="#222" stroke-width="0.9"/>
<text transform="translate(443.1 166.1) translate(-9.19 0) scale(0.9500 1)" font-size="9" fill="#1a1a1a">10</text>
<text transform="translate(443.25 163.1) translate(-0.21 0)" font-size="4.3" fill="#1a1a1a" stroke="#1a1a1a" stroke-width="0.1">2</text>
<line x1="445.3" y1="163.5" x2="447.1" y2="163.5" stroke="#222" stroke-width="0.9"/>
<text transform="translate(441.7 175) translate(-4.45 0) scale(0.9500 1)" font-size="9" fill="#1a1a1a">0</text>
<line x1="445.3" y1="172.2" x2="447.1" y2="172.2" stroke="#222" stroke-width="0.9"/>
<line x1="446.1" y1="115.4" x2="447.1" y2="115.4" stroke="#999" stroke-width="0.4"/>
<line x1="446.1" y1="117.6" x2="447.1" y2="117.6" stroke="#999" stroke-width="0.4"/>
<line x1="446.1" y1="119.8" x2="447.1" y2="119.8" stroke="#999" stroke-width="0.4"/>
<line x1="446.1" y1="122" x2="447.1" y2="122" stroke="#999" stroke-width="0.4"/>
<line x1="446.1" y1="124.2" x2="447.1" y2="124.2" stroke="#999" stroke-width="0.4"/>
<line x1="446.1" y1="126.4" x2="447.1" y2="126.4" stroke="#999" stroke-width="0.4"/>
<line x1="446.1" y1="128.6" x2="447.1" y2="128.6" stroke="#999" stroke-width="0.4"/>
<line x1="446.1" y1="130.8" x2="447.1" y2="130.8" stroke="#999" stroke-width="0.4"/>
<line x1="446.1" y1="133" x2="447.1" y2="133" stroke="#999" stroke-width="0.4"/>
<line x1="446.1" y1="135.2" x2="447.1" y2="135.2" stroke="#999" stroke-width="0.4"/>
<line x1="446.1" y1="137.4" x2="447.1" y2="137.4" stroke="#999" stroke-width="0.4"/>
<line x1="446.1" y1="139.6" x2="447.1" y2="139.6" stroke="#999" stroke-width="0.4"/>
<line x1="446.1" y1="141.8" x2="447.1" y2="141.8" stroke="#999" stroke-width="0.4"/>
<line x1="446.1" y1="144" x2="447.1" y2="144" stroke="#999" stroke-width="0.4"/>
<line x1="446.1" y1="146.2" x2="447.1" y2="146.2" stroke="#999" stroke-width="0.4"/>
<line x1="446.1" y1="148.4" x2="447.1" y2="148.4" stroke="#999" stroke-width="0.4"/>
<line x1="446.1" y1="150.6" x2="447.1" y2="150.6" stroke="#999" stroke-width="0.4"/>
<line x1="446.1" y1="152.8" x2="447.1" y2="152.8" stroke="#999" stroke-width="0.4"/>
<line x1="446.1" y1="155" x2="447.1" y2="155" stroke="#999" stroke-width="0.4"/>
<line x1="446.1" y1="157.2" x2="447.1" y2="157.2" stroke="#999" stroke-width="0.4"/>
<line x1="446.1" y1="159.4" x2="447.1" y2="159.4" stroke="#999" stroke-width="0.4"/>
<line x1="446.1" y1="161.6" x2="447.1" y2="161.6" stroke="#999" stroke-width="0.4"/>
<line x1="446.1" y1="163.8" x2="447.1" y2="163.8" stroke="#999" stroke-width="0.4"/>
<line x1="446.1" y1="166" x2="447.1" y2="166" stroke="#999" stroke-width="0.4"/>
<line x1="446.1" y1="168.2" x2="447.1" y2="168.2" stroke="#999" stroke-width="0.4"/>
<line x1="446.1" y1="170.4" x2="447.1" y2="170.4" stroke="#999" stroke-width="0.4"/>
<line x1="446.1" y1="172.6" x2="447.1" y2="172.6" stroke="#999" stroke-width="0.4"/>
<line x1="446.1" y1="174.8" x2="447.1" y2="174.8" stroke="#999" stroke-width="0.4"/>
<line x1="446.1" y1="177" x2="447.1" y2="177" stroke="#999" stroke-width="0.4"/>
<line x1="451.1" y1="178.4" x2="451.1" y2="180.4" stroke="#6a6a6a" stroke-width="0.7"/>
<text transform="translate(451.4 187.2) rotate(-45) translate(-3.95 0)" font-size="7.6" fill="#1a1a1a">0</text>
<line x1="462.74" y1="178.4" x2="462.74" y2="180.4" stroke="#6a6a6a" stroke-width="0.7"/>
<text transform="translate(461.8 187.2) rotate(-45) translate(-13.41 0)" font-size="7.6" fill="#1a1a1a">50K</text>
<line x1="474.38" y1="178.4" x2="474.38" y2="180.4" stroke="#6a6a6a" stroke-width="0.7"/>
<text transform="translate(472.9 187.2) rotate(-45) translate(-17.67 0)" font-size="7.6" fill="#1a1a1a">100K</text>
<line x1="486.02" y1="178.4" x2="486.02" y2="180.4" stroke="#6a6a6a" stroke-width="0.7"/>
<text transform="translate(485.4 187.2) rotate(-45) translate(-17.67 0)" font-size="7.6" fill="#1a1a1a">150K</text>
<line x1="497.66" y1="178.4" x2="497.66" y2="180.4" stroke="#6a6a6a" stroke-width="0.7"/>
<text transform="translate(497.8 187.2) rotate(-45) translate(-17.67 0)" font-size="7.6" fill="#1a1a1a">200K</text>
<line x1="509.3" y1="178.4" x2="509.3" y2="180.4" stroke="#6a6a6a" stroke-width="0.7"/>
<text transform="translate(510.3 187.2) rotate(-45) translate(-17.67 0)" font-size="7.6" fill="#1a1a1a">250K</text>
<line x1="453.43" y1="178.4" x2="453.43" y2="179.4" stroke="#999" stroke-width="0.4"/>
<line x1="455.76" y1="178.4" x2="455.76" y2="179.4" stroke="#999" stroke-width="0.4"/>
<line x1="458.08" y1="178.4" x2="458.08" y2="179.4" stroke="#999" stroke-width="0.4"/>
<line x1="460.41" y1="178.4" x2="460.41" y2="179.4" stroke="#999" stroke-width="0.4"/>
<line x1="462.74" y1="178.4" x2="462.74" y2="179.4" stroke="#999" stroke-width="0.4"/>
<line x1="465.07" y1="178.4" x2="465.07" y2="179.4" stroke="#999" stroke-width="0.4"/>
<line x1="467.4" y1="178.4" x2="467.4" y2="179.4" stroke="#999" stroke-width="0.4"/>
<line x1="469.72" y1="178.4" x2="469.72" y2="179.4" stroke="#999" stroke-width="0.4"/>
<line x1="472.05" y1="178.4" x2="472.05" y2="179.4" stroke="#999" stroke-width="0.4"/>
<line x1="474.38" y1="178.4" x2="474.38" y2="179.4" stroke="#999" stroke-width="0.4"/>
<line x1="476.71" y1="178.4" x2="476.71" y2="179.4" stroke="#999" stroke-width="0.4"/>
<line x1="479.04" y1="178.4" x2="479.04" y2="179.4" stroke="#999" stroke-width="0.4"/>
<line x1="481.36" y1="178.4" x2="481.36" y2="179.4" stroke="#999" stroke-width="0.4"/>
<line x1="483.69" y1="178.4" x2="483.69" y2="179.4" stroke="#999" stroke-width="0.4"/>
<line x1="486.02" y1="178.4" x2="486.02" y2="179.4" stroke="#999" stroke-width="0.4"/>
<line x1="488.35" y1="178.4" x2="488.35" y2="179.4" stroke="#999" stroke-width="0.4"/>
<line x1="490.68" y1="178.4" x2="490.68" y2="179.4" stroke="#999" stroke-width="0.4"/>
<line x1="493" y1="178.4" x2="493" y2="179.4" stroke="#999" stroke-width="0.4"/>
<line x1="495.33" y1="178.4" x2="495.33" y2="179.4" stroke="#999" stroke-width="0.4"/>
<line x1="497.66" y1="178.4" x2="497.66" y2="179.4" stroke="#999" stroke-width="0.4"/>
<line x1="499.99" y1="178.4" x2="499.99" y2="179.4" stroke="#999" stroke-width="0.4"/>
<line x1="502.32" y1="178.4" x2="502.32" y2="179.4" stroke="#999" stroke-width="0.4"/>
<line x1="504.64" y1="178.4" x2="504.64" y2="179.4" stroke="#999" stroke-width="0.4"/>
<line x1="506.97" y1="178.4" x2="506.97" y2="179.4" stroke="#999" stroke-width="0.4"/>
<line x1="509.3" y1="178.4" x2="509.3" y2="179.4" stroke="#999" stroke-width="0.4"/>
<line x1="511.63" y1="178.4" x2="511.63" y2="179.4" stroke="#999" stroke-width="0.4"/>
<text transform="translate(282.5 30.7) translate(0 0)" font-size="7.4" font-weight="bold" fill="#000" stroke="#000" stroke-width="0.25">G<tspan font-size="4.6" dy="1.3">1</tspan></text>
<text transform="translate(316 30.1) translate(0 0) scale(1.0023 1)" font-size="7.4" font-weight="bold" fill="#000" stroke="#000" stroke-width="0.25">S·G<tspan font-size="4.6" dy="1.4">2</tspan><tspan dy="-1.4">·M</tspan></text>
<text transform="translate(282.5 74.7) translate(0 0)" font-size="7.4" font-weight="bold" fill="#000" stroke="#000" stroke-width="0.25">G<tspan font-size="4.6" dy="1.3">0</tspan></text>
<text transform="translate(7.2 246) translate(-0.46 0) scale(0.9833 1)" font-size="11.8" font-weight="bold" fill="#000" stroke="#000" stroke-width="0.2">C</text>
<line x1="62.9" y1="280" x2="62.9" y2="349.2" stroke="#222" stroke-width="1.25"/>
<line x1="62.3" y1="348.6" x2="124.5" y2="348.6" stroke="#222" stroke-width="1.25"/>
<line x1="60" y1="348.6" x2="62.9" y2="348.6" stroke="#222" stroke-width="1"/>
<text transform="translate(56.6 351.5) translate(-11.38 0) scale(0.9542 1)" font-size="8.8" fill="#1a1a1a">0.0</text>
<line x1="60" y1="335.5" x2="62.9" y2="335.5" stroke="#222" stroke-width="1"/>
<text transform="translate(56.6 338.4) translate(-11.29 0) scale(0.9542 1)" font-size="8.8" fill="#1a1a1a">0.1</text>
<line x1="60" y1="322.4" x2="62.9" y2="322.4" stroke="#222" stroke-width="1"/>
<text transform="translate(56.6 325.3) translate(-11.25 0) scale(0.9542 1)" font-size="8.8" fill="#1a1a1a">0.2</text>
<line x1="60" y1="309.3" x2="62.9" y2="309.3" stroke="#222" stroke-width="1"/>
<text transform="translate(56.6 312.2) translate(-11.34 0) scale(0.9542 1)" font-size="8.8" fill="#1a1a1a">0.3</text>
<line x1="60" y1="296.2" x2="62.9" y2="296.2" stroke="#222" stroke-width="1"/>
<text transform="translate(56.6 299.1) translate(-11.42 0) scale(0.9542 1)" font-size="8.8" fill="#1a1a1a">0.4</text>
<line x1="60" y1="283.1" x2="62.9" y2="283.1" stroke="#222" stroke-width="1"/>
<text transform="translate(56.6 286) translate(-11.34 0) scale(0.9542 1)" font-size="8.8" fill="#1a1a1a">0.5</text>
<line x1="61.3" y1="342.05" x2="62.9" y2="342.05" stroke="#222" stroke-width="0.8"/>
<line x1="61.3" y1="328.95" x2="62.9" y2="328.95" stroke="#222" stroke-width="0.8"/>
<line x1="61.3" y1="315.85" x2="62.9" y2="315.85" stroke="#222" stroke-width="0.8"/>
<line x1="61.3" y1="302.75" x2="62.9" y2="302.75" stroke="#222" stroke-width="0.8"/>
<line x1="61.3" y1="289.65" x2="62.9" y2="289.65" stroke="#222" stroke-width="0.8"/>
<line x1="75.3" y1="348.6" x2="75.3" y2="351.5" stroke="#222" stroke-width="1"/>
<line x1="93.75" y1="348.6" x2="93.75" y2="351.5" stroke="#222" stroke-width="1"/>
<line x1="112.3" y1="348.6" x2="112.3" y2="351.5" stroke="#222" stroke-width="1"/>
<text transform="translate(75.4 360.8) translate(-6.38 0) scale(0.9488 1)" font-size="9" fill="#1a1a1a" stroke="#1a1a1a" stroke-width="0.1">BM</text>
<text transform="translate(93.6 360.8) translate(-6.93 0) scale(0.8081 1)" font-size="9" fill="#1a1a1a" stroke="#1a1a1a" stroke-width="0.1">SPL</text>
<text transform="translate(112.45 360.8) translate(-5.21 0) scale(0.8519 1)" font-size="9" fill="#1a1a1a" stroke="#1a1a1a" stroke-width="0.1">PB</text>
<text transform="translate(40.3 312.1) rotate(-90) translate(-32.25 0) scale(0.6605 1)" font-size="9.9" fill="#1a1a1a" stroke="#1a1a1a" stroke-width="0.1">HSC/MPP S·G<tspan font-size="6.8" dy="1.98">2</tspan><tspan dy="-1.98">·M [%]</tspan></text>
<path d="M75.8 276.3 L75.8 275.1 Q75.8 274.3 76.6 274.3 L114.6 274.3 Q115.4 274.3 115.4 275.1 L115.4 276.3" fill="none" stroke="#2a2a2a" stroke-width="1.15"/>
<text transform="translate(95.7 271.4) translate(-7.3 0) scale(0.8530 1)" font-size="8.8" fill="#1a1a1a" stroke="#1a1a1a" stroke-width="0.1">0.45</text>
<path d="M75.8 290 L75.8 288.8 Q75.8 288 76.6 288 L94 288 Q94.8 288 94.8 288.8 L94.8 290" fill="none" stroke="#2a2a2a" stroke-width="1.15"/>
<text transform="translate(85.5 285.1) translate(-7.67 0) scale(0.9005 1)" font-size="8.8" fill="#1a1a1a" stroke="#1a1a1a" stroke-width="0.1">0.12</text>
<path d="M96.4 303 L96.4 301.8 Q96.4 301 97.2 301 L114.6 301 Q115.4 301 115.4 301.8 L115.4 303" fill="none" stroke="#2a2a2a" stroke-width="1.15"/>
<text transform="translate(105.55 297.4) translate(-7.04 0) scale(0.8248 1)" font-size="8.8" fill="#1a1a1a" stroke="#1a1a1a" stroke-width="0.1">0.79</text>
<line x1="75.35" y1="337.5" x2="75.35" y2="348.6" stroke="#222" stroke-width="1.1"/>
<line x1="72.6" y1="337.5" x2="78.1" y2="337.5" stroke="#222" stroke-width="1.1"/>
<line x1="69.1" y1="340.4" x2="81.6" y2="340.4" stroke="#222" stroke-width="1.2"/>
<circle cx="70.8" cy="337.5" r="1.7" fill="#15579c"/>
<circle cx="79.9" cy="340.4" r="1.7" fill="#15579c"/>
<circle cx="75.35" cy="348.6" r="1.7" fill="#15579c"/>
<circle cx="89.1" cy="348.6" r="1.65" fill="#33b540"/>
<circle cx="93.75" cy="348.6" r="1.65" fill="#33b540"/>
<circle cx="98.45" cy="348.6" r="1.65" fill="#33b540"/>
<rect x="106.4" y="346.9" width="11.7" height="3.4" rx="1.7" fill="#d0142c"/>
<line x1="105.9" y1="348.6" x2="118.6" y2="348.6" stroke="#6a1020" stroke-width="0.8"/>
<line x1="112.2" y1="339.7" x2="112.2" y2="351" stroke="#222" stroke-width="1.1"/>
<line x1="109.1" y1="339.7" x2="115.3" y2="339.7" stroke="#222" stroke-width="1.1"/>
<circle cx="110.5" cy="336.3" r="1.65" fill="#d0142c"/>
<line x1="62.9" y1="396.3" x2="62.9" y2="465" stroke="#222" stroke-width="1.25"/>
<line x1="62.3" y1="464.4" x2="124.5" y2="464.4" stroke="#222" stroke-width="1.25"/>
<line x1="60" y1="464.4" x2="62.9" y2="464.4" stroke="#222" stroke-width="1"/>
<text transform="translate(56.6 467.3) translate(-4.37 0) scale(0.9552 1)" font-size="8.8" fill="#1a1a1a">0</text>
<line x1="60" y1="442.7" x2="62.9" y2="442.7" stroke="#222" stroke-width="1"/>
<text transform="translate(56.6 445.6) translate(-9.04 0) scale(0.9552 1)" font-size="8.8" fill="#1a1a1a">10</text>
<line x1="60" y1="421" x2="62.9" y2="421" stroke="#222" stroke-width="1"/>
<text transform="translate(56.6 423.9) translate(-9.04 0) scale(0.9552 1)" font-size="8.8" fill="#1a1a1a">20</text>
<line x1="60" y1="399.3" x2="62.9" y2="399.3" stroke="#222" stroke-width="1"/>
<text transform="translate(56.6 402.2) translate(-9.04 0) scale(0.9552 1)" font-size="8.8" fill="#1a1a1a">30</text>
<line x1="61.3" y1="453.55" x2="62.9" y2="453.55" stroke="#222" stroke-width="0.8"/>
<line x1="61.3" y1="431.85" x2="62.9" y2="431.85" stroke="#222" stroke-width="0.8"/>
<line x1="61.3" y1="410.15" x2="62.9" y2="410.15" stroke="#222" stroke-width="0.8"/>
<line x1="75.3" y1="464.4" x2="75.3" y2="467.3" stroke="#222" stroke-width="1"/>
<line x1="93.75" y1="464.4" x2="93.75" y2="467.3" stroke="#222" stroke-width="1"/>
<line x1="112.3" y1="464.4" x2="112.3" y2="467.3" stroke="#222" stroke-width="1"/>
<text transform="translate(75.4 476.6) translate(-6.38 0) scale(0.9488 1)" font-size="9" fill="#1a1a1a" stroke="#1a1a1a" stroke-width="0.1">BM</text>
<text transform="translate(93.6 476.6) translate(-6.93 0) scale(0.8081 1)" font-size="9" fill="#1a1a1a" stroke="#1a1a1a" stroke-width="0.1">SPL</text>
<text transform="translate(112.45 476.6) translate(-5.21 0) scale(0.8519 1)" font-size="9" fill="#1a1a1a" stroke="#1a1a1a" stroke-width="0.1">PB</text>
<text transform="translate(40.3 430.3) rotate(-90) translate(-44.3 0) scale(0.7530 1)" font-size="9.9" fill="#1a1a1a" stroke="#1a1a1a" stroke-width="0.1">CD34+ CD38+ S·G<tspan font-size="6.8" dy="1.98">2</tspan><tspan dy="-1.98">·M [%]</tspan></text>
<path d="M74.3 391.6 L74.3 390.4 Q74.3 389.6 75.1 389.6 L113.4 389.6 Q114.2 389.6 114.2 390.4 L114.2 391.6" fill="none" stroke="#2a2a2a" stroke-width="1.15"/>
<text transform="translate(96.7 386.8) translate(-9.71 0) scale(0.8846 1)" font-size="8.8" fill="#1a1a1a" stroke="#1a1a1a" stroke-width="0.1">0.009</text>
<path d="M74.3 405.7 L74.3 404.5 Q74.3 403.7 75.1 403.7 L92.8 403.7 Q93.6 403.7 93.6 404.5 L93.6 405.7" fill="none" stroke="#2a2a2a" stroke-width="1.15"/>
<text transform="translate(83.95 400.8) translate(-9.45 0) scale(0.8611 1)" font-size="8.8" fill="#1a1a1a" stroke="#1a1a1a" stroke-width="0.1">0.009</text>
<path d="M95.2 419.8 L95.2 418.6 Q95.2 417.8 96 417.8 L113.6 417.8 Q114.4 417.8 114.4 418.6 L114.4 419.8" fill="none" stroke="#2a2a2a" stroke-width="1.15"/>
<text transform="translate(104.5 414.7) translate(-9.56 0) scale(0.8705 1)" font-size="8.8" fill="#1a1a1a" stroke="#1a1a1a" stroke-width="0.1">0.009</text>
<line x1="75.2" y1="430.9" x2="75.2" y2="447.9" stroke="#222" stroke-width="1.1"/>
<line x1="72.3" y1="430.9" x2="78.4" y2="430.9" stroke="#222" stroke-width="1.1"/>
<line x1="72.3" y1="447.9" x2="78.4" y2="447.9" stroke="#222" stroke-width="1.1"/>
<line x1="69.2" y1="436.9" x2="81.3" y2="436.9" stroke="#444" stroke-width="1.3"/>
<circle cx="75.2" cy="430.9" r="1.55" fill="#15579c"/>
<circle cx="75.2" cy="436.9" r="1.55" fill="#15579c"/>
<circle cx="75.2" cy="447.9" r="1.55" fill="#15579c"/>
<line x1="93.8" y1="459.8" x2="93.8" y2="466.5" stroke="#222" stroke-width="1"/>
<line x1="91.1" y1="459.8" x2="96.9" y2="459.8" stroke="#222" stroke-width="1"/>
<line x1="88.8" y1="463.2" x2="98.6" y2="463.2" stroke="#222" stroke-width="1.1"/>
<circle cx="89.1" cy="463.8" r="1.6" fill="#33b540"/>
<circle cx="93.8" cy="459.6" r="1.6" fill="#33b540"/>
<circle cx="98.4" cy="463.8" r="1.6" fill="#33b540"/>
<rect x="106.4" y="462.9" width="11.2" height="3.0" rx="1.5" fill="#d0142c"/>
<line x1="106" y1="464.4" x2="118" y2="464.4" stroke="#6a1020" stroke-width="0.7"/>
<text transform="translate(173.8 245.7) translate(-0.86 0) scale(1.1354 1)" font-size="11.6" font-weight="bold" fill="#000" stroke="#000" stroke-width="0.2">D</text>
<text transform="translate(359.2 245.9) translate(-0.77 0) scale(1.0223 1)" font-size="11.6" font-weight="bold" fill="#000" stroke="#000" stroke-width="0.2">E</text>
<path d="M213.6 347.76 L214.12 347.73 L214.64 347.71 L215.17 347.68 L215.69 347.65 L216.21 347.62 L216.73 347.59 L217.26 347.56 L217.78 347.52 L218.3 347.49 L218.82 347.45 L219.35 347.42 L219.87 347.38 L220.39 347.34 L220.91 347.3 L221.44 347.25 L221.96 347.21 L222.48 347.16 L223 347.12 L223.53 347.07 L224.05 347.02 L224.57 346.97 L225.09 346.91 L225.62 346.86 L226.14 346.8 L226.66 346.74 L227.19 346.68 L227.71 346.61 L228.23 346.54 L228.75 346.48 L229.28 346.4 L229.8 346.33 L230.32 346.25 L230.84 346.17 L231.37 346.09 L231.89 346.01 L232.41 345.92 L232.93 345.83 L233.46 345.73 L233.98 345.64 L234.5 345.54 L235.02 345.43 L235.54 345.32 L236.07 345.21 L236.59 345.1 L237.11 344.98 L237.63 344.85 L238.16 344.72 L238.68 344.59 L239.2 344.45 L239.72 344.31 L240.25 344.16 L240.77 344.01 L241.29 343.85 L241.81 343.68 L242.34 343.52 L242.86 343.34 L243.38 343.16 L243.9 342.97 L244.43 342.77 L244.95 342.57 L245.47 342.36 L245.99 342.15 L246.52 341.92 L247.04 341.69 L247.56 341.45 L248.08 341.2 L248.61 340.94 L249.13 340.68 L249.65 340.4 L250.17 340.12 L250.7 339.82 L251.22 339.51 L251.74 339.2 L252.26 338.87 L252.79 338.53 L253.31 338.18 L253.83 337.81 L254.35 337.44 L254.88 337.05 L255.4 336.64 L255.92 336.23 L256.44 335.79 L256.97 335.34 L257.49 334.88 L258.01 334.4 L258.53 333.9 L259.06 333.39 L259.58 332.86 L260.1 332.3 L260.62 331.73 L261.15 331.14 L261.67 330.53 L262.19 329.9 L262.71 329.24 L263.24 328.56 L263.76 327.86 L264.28 327.13 L264.8 326.38 L265.33 325.6 L265.85 324.79 L266.37 323.95 L266.89 323.09 L267.42 322.19 L267.94 321.26 L268.46 320.3 L268.98 319.31 L269.51 318.28 L270.03 317.21 L270.55 316.11 L271.07 314.97 L271.6 313.78 L272.12 312.56 L272.64 311.29 L273.16 309.98 L273.69 308.62 L274.21 307.22 L274.73 305.76 L275.25 304.25 L275.78 302.69 L276.3 301.08 L276.82 299.4 L277.34 297.67 L277.87 295.88 L278.39 294.02 L278.91 292.1 L279.43 290.11 L279.96 288.06 L280.48 285.92 L281 283.72 L281.52 281.43" fill="none" stroke="#a9a9a9" stroke-width="1.05"/>
<line x1="246.2" y1="286.7" x2="246.2" y2="348.5" stroke="#555" stroke-width="0.75" stroke-dasharray="0.7 1.1"/>
<line x1="274.3" y1="280.4" x2="274.3" y2="348.5" stroke="#555" stroke-width="0.75" stroke-dasharray="0.7 1.1"/>
<line x1="213.6" y1="282" x2="213.6" y2="349.2" stroke="#2a2a2a" stroke-width="1.4"/>
<line x1="212.9" y1="348.5" x2="287" y2="348.5" stroke="#2a2a2a" stroke-width="1.4"/>
<path d="M213.6 348.5 L246.2 346.7 L274.3 340.7" fill="none" stroke="#33b540" stroke-width="1.45"/>
<line x1="239.5" y1="346.7" x2="252.3" y2="346.7" stroke="#33b540" stroke-width="1.15"/>
<line x1="239.5" y1="345.3" x2="239.5" y2="348.1" stroke="#33b540" stroke-width="1.15"/>
<line x1="252.3" y1="345.3" x2="252.3" y2="348.1" stroke="#33b540" stroke-width="1.15"/>
<line x1="268.5" y1="340.7" x2="280.6" y2="340.7" stroke="#33b540" stroke-width="1.15"/>
<line x1="268.5" y1="339.3" x2="268.5" y2="342.1" stroke="#33b540" stroke-width="1.15"/>
<line x1="280.6" y1="339.3" x2="280.6" y2="342.1" stroke="#33b540" stroke-width="1.15"/>
<rect x="211.7" y="346.6" width="3.8" height="3.8" rx="0.6" fill="#33b540"/>
<rect x="244.3" y="344.8" width="3.8" height="3.8" rx="0.6" fill="#33b540"/>
<rect x="272.4" y="338.8" width="3.8" height="3.8" rx="0.6" fill="#33b540"/>
<path d="M213.6 348.5 L246.2 342.5 L274.3 305" fill="none" stroke="#15579c" stroke-width="1.45"/>
<line x1="239" y1="342.5" x2="252.5" y2="342.5" stroke="#15579c" stroke-width="1.15"/>
<line x1="239" y1="341.1" x2="239" y2="343.9" stroke="#15579c" stroke-width="1.15"/>
<line x1="252.5" y1="341.1" x2="252.5" y2="343.9" stroke="#15579c" stroke-width="1.15"/>
<line x1="246.2" y1="338.9" x2="246.2" y2="346" stroke="#15579c" stroke-width="1.15"/>
<line x1="244.8" y1="338.9" x2="247.6" y2="338.9" stroke="#15579c" stroke-width="1.15"/>
<line x1="244.8" y1="346" x2="247.6" y2="346" stroke="#15579c" stroke-width="1.15"/>
<line x1="268.5" y1="305" x2="280.6" y2="305" stroke="#15579c" stroke-width="1.15"/>
<line x1="268.5" y1="303.6" x2="268.5" y2="306.4" stroke="#15579c" stroke-width="1.15"/>
<line x1="280.6" y1="303.6" x2="280.6" y2="306.4" stroke="#15579c" stroke-width="1.15"/>
<line x1="274.3" y1="288.7" x2="274.3" y2="319" stroke="#15579c" stroke-width="1.15"/>
<line x1="272.9" y1="288.7" x2="275.7" y2="288.7" stroke="#15579c" stroke-width="1.15"/>
<line x1="272.9" y1="319" x2="275.7" y2="319" stroke="#15579c" stroke-width="1.15"/>
<circle cx="213.6" cy="348.5" r="2.2" fill="#15579c"/>
<circle cx="246.2" cy="342.5" r="2.2" fill="#15579c"/>
<circle cx="274.3" cy="305" r="2.2" fill="#15579c"/>
<line x1="210.6" y1="348.5" x2="213.6" y2="348.5" stroke="#2a2a2a" stroke-width="1"/>
<text transform="translate(207.4 351.35) translate(-4.02 0) scale(0.9200 1)" font-size="8.4" fill="#1a1a1a" stroke="#1a1a1a" stroke-width="0.1">0</text>
<line x1="210.6" y1="333.68" x2="213.6" y2="333.68" stroke="#2a2a2a" stroke-width="1"/>
<text transform="translate(207.4 336.53) translate(-8.31 0) scale(0.9200 1)" font-size="8.4" fill="#1a1a1a" stroke="#1a1a1a" stroke-width="0.1">20</text>
<line x1="210.6" y1="318.86" x2="213.6" y2="318.86" stroke="#2a2a2a" stroke-width="1"/>
<text transform="translate(207.4 321.71) translate(-8.31 0) scale(0.9200 1)" font-size="8.4" fill="#1a1a1a" stroke="#1a1a1a" stroke-width="0.1">40</text>
<line x1="210.6" y1="304.04" x2="213.6" y2="304.04" stroke="#2a2a2a" stroke-width="1"/>
<text transform="translate(207.4 306.89) translate(-8.31 0) scale(0.9200 1)" font-size="8.4" fill="#1a1a1a" stroke="#1a1a1a" stroke-width="0.1">60</text>
<line x1="210.6" y1="289.22" x2="213.6" y2="289.22" stroke="#2a2a2a" stroke-width="1"/>
<text transform="translate(207.4 292.07) translate(-8.31 0) scale(0.9200 1)" font-size="8.4" fill="#1a1a1a" stroke="#1a1a1a" stroke-width="0.1">80</text>
<line x1="213.6" y1="348.5" x2="213.6" y2="351.5" stroke="#2a2a2a" stroke-width="1"/>
<text transform="translate(213.6 360.7) translate(-2.16 0) scale(0.9200 1)" font-size="8.4" fill="#1a1a1a" stroke="#1a1a1a" stroke-width="0.1">0</text>
<line x1="234.5" y1="348.5" x2="234.5" y2="351.5" stroke="#2a2a2a" stroke-width="1"/>
<text transform="translate(234.5 360.7) translate(-2.14 0) scale(0.9200 1)" font-size="8.4" fill="#1a1a1a" stroke="#1a1a1a" stroke-width="0.1">2</text>
<line x1="255.4" y1="348.5" x2="255.4" y2="351.5" stroke="#2a2a2a" stroke-width="1"/>
<text transform="translate(255.4 360.7) translate(-2.11 0) scale(0.9200 1)" font-size="8.4" fill="#1a1a1a" stroke="#1a1a1a" stroke-width="0.1">4</text>
<line x1="276.3" y1="348.5" x2="276.3" y2="351.5" stroke="#2a2a2a" stroke-width="1"/>
<text transform="translate(276.3 360.7) translate(-2.18 0) scale(0.9200 1)" font-size="8.4" fill="#1a1a1a" stroke="#1a1a1a" stroke-width="0.1">6</text>
<text transform="translate(245.8 283.5) translate(-6.52 0) scale(0.7794 1)" font-size="8.6" fill="#1a1a1a" stroke="#1a1a1a" stroke-width="0.1">0.08</text>
<text transform="translate(274.6 277.1) translate(-8.78 0) scale(0.8168 1)" font-size="8.6" fill="#1a1a1a" stroke="#1a1a1a" stroke-width="0.1">0.013</text>
<path d="M213.6 464.06 L214.12 464.04 L214.64 464.01 L215.17 463.98 L215.69 463.95 L216.21 463.92 L216.73 463.89 L217.26 463.86 L217.78 463.83 L218.3 463.79 L218.82 463.76 L219.35 463.72 L219.87 463.68 L220.39 463.65 L220.91 463.6 L221.44 463.56 L221.96 463.52 L222.48 463.47 L223 463.43 L223.53 463.38 L224.05 463.33 L224.57 463.28 L225.09 463.22 L225.62 463.17 L226.14 463.11 L226.66 463.05 L227.19 462.99 L227.71 462.92 L228.23 462.86 L228.75 462.79 L229.28 462.72 L229.8 462.64 L230.32 462.57 L230.84 462.49 L231.37 462.41 L231.89 462.32 L232.41 462.24 L232.93 462.15 L233.46 462.05 L233.98 461.96 L234.5 461.86 L235.02 461.75 L235.54 461.64 L236.07 461.53 L236.59 461.42 L237.11 461.3 L237.63 461.18 L238.16 461.05 L238.68 460.92 L239.2 460.78 L239.72 460.64 L240.25 460.49 L240.77 460.34 L241.29 460.18 L241.81 460.02 L242.34 459.85 L242.86 459.67 L243.38 459.49 L243.9 459.31 L244.43 459.11 L244.95 458.91 L245.47 458.7 L245.99 458.49 L246.52 458.27 L247.04 458.04 L247.56 457.8 L248.08 457.55 L248.61 457.3 L249.13 457.03 L249.65 456.76 L250.17 456.47 L250.7 456.18 L251.22 455.88 L251.74 455.56 L252.26 455.23 L252.79 454.9 L253.31 454.55 L253.83 454.19 L254.35 453.81 L254.88 453.43 L255.4 453.02 L255.92 452.61 L256.44 452.18 L256.97 451.73 L257.49 451.27 L258.01 450.8 L258.53 450.3 L259.06 449.79 L259.58 449.26 L260.1 448.71 L260.62 448.15 L261.15 447.56 L261.67 446.95 L262.19 446.32 L262.71 445.67 L263.24 445 L263.76 444.3 L264.28 443.57 L264.8 442.83 L265.33 442.05 L265.85 441.25 L266.37 440.42 L266.89 439.56 L267.42 438.67 L267.94 437.75 L268.46 436.79 L268.98 435.8 L269.51 434.78 L270.03 433.72 L270.55 432.63 L271.07 431.49 L271.6 430.32 L272.12 429.1 L272.64 427.84 L273.16 426.54 L273.69 425.19 L274.21 423.79 L274.73 422.35 L275.25 420.85 L275.78 419.3 L276.3 417.7 L276.82 416.03 L277.34 414.32 L277.87 412.53 L278.39 410.69 L278.91 408.78 L279.43 406.81 L279.96 404.76 L280.48 402.65 L281 400.45 L281.52 398.18" fill="none" stroke="#a9a9a9" stroke-width="1.05"/>
<line x1="246.2" y1="402" x2="246.2" y2="464.8" stroke="#555" stroke-width="0.75" stroke-dasharray="0.7 1.1"/>
<line x1="274.3" y1="399.1" x2="274.3" y2="464.8" stroke="#555" stroke-width="0.75" stroke-dasharray="0.7 1.1"/>
<line x1="213.6" y1="398.6" x2="213.6" y2="465.5" stroke="#2a2a2a" stroke-width="1.4"/>
<line x1="212.9" y1="464.8" x2="287" y2="464.8" stroke="#2a2a2a" stroke-width="1.4"/>
<path d="M213.6 464.8 L246.2 463.4 L274.3 458.9" fill="none" stroke="#d0142c" stroke-width="1.45"/>
<line x1="239.5" y1="463.4" x2="252.3" y2="463.4" stroke="#d0142c" stroke-width="1.15"/>
<line x1="239.5" y1="462" x2="239.5" y2="464.8" stroke="#d0142c" stroke-width="1.15"/>
<line x1="252.3" y1="462" x2="252.3" y2="464.8" stroke="#d0142c" stroke-width="1.15"/>
<line x1="268.5" y1="458.9" x2="280.6" y2="458.9" stroke="#d0142c" stroke-width="1.15"/>
<line x1="268.5" y1="457.5" x2="268.5" y2="460.3" stroke="#d0142c" stroke-width="1.15"/>
<line x1="280.6" y1="457.5" x2="280.6" y2="460.3" stroke="#d0142c" stroke-width="1.15"/>
<line x1="274.3" y1="453.5" x2="274.3" y2="462.9" stroke="#d0142c" stroke-width="1.15"/>
<line x1="272.9" y1="453.5" x2="275.7" y2="453.5" stroke="#d0142c" stroke-width="1.15"/>
<line x1="272.9" y1="462.9" x2="275.7" y2="462.9" stroke="#d0142c" stroke-width="1.15"/>
<rect x="211.7" y="462.9" width="3.8" height="3.8" rx="0.6" fill="#d0142c"/>
<rect x="244.3" y="461.5" width="3.8" height="3.8" rx="0.6" fill="#d0142c"/>
<rect x="272.4" y="457" width="3.8" height="3.8" rx="0.6" fill="#d0142c"/>
<path d="M213.6 464.8 L246.2 458.4 L274.3 421.2" fill="none" stroke="#15579c" stroke-width="1.45"/>
<line x1="239" y1="458.4" x2="252.5" y2="458.4" stroke="#15579c" stroke-width="1.15"/>
<line x1="239" y1="457" x2="239" y2="459.8" stroke="#15579c" stroke-width="1.15"/>
<line x1="252.5" y1="457" x2="252.5" y2="459.8" stroke="#15579c" stroke-width="1.15"/>
<line x1="246.2" y1="454.7" x2="246.2" y2="462" stroke="#15579c" stroke-width="1.15"/>
<line x1="244.8" y1="454.7" x2="247.6" y2="454.7" stroke="#15579c" stroke-width="1.15"/>
<line x1="244.8" y1="462" x2="247.6" y2="462" stroke="#15579c" stroke-width="1.15"/>
<line x1="268.5" y1="421.2" x2="280.6" y2="421.2" stroke="#15579c" stroke-width="1.15"/>
<line x1="268.5" y1="419.8" x2="268.5" y2="422.6" stroke="#15579c" stroke-width="1.15"/>
<line x1="280.6" y1="419.8" x2="280.6" y2="422.6" stroke="#15579c" stroke-width="1.15"/>
<line x1="274.3" y1="405.3" x2="274.3" y2="435.4" stroke="#15579c" stroke-width="1.15"/>
<line x1="272.9" y1="405.3" x2="275.7" y2="405.3" stroke="#15579c" stroke-width="1.15"/>
<line x1="272.9" y1="435.4" x2="275.7" y2="435.4" stroke="#15579c" stroke-width="1.15"/>
<circle cx="213.6" cy="464.8" r="2.2" fill="#15579c"/>
<circle cx="246.2" cy="458.4" r="2.2" fill="#15579c"/>
<circle cx="274.3" cy="421.2" r="2.2" fill="#15579c"/>
<line x1="210.6" y1="464.8" x2="213.6" y2="464.8" stroke="#2a2a2a" stroke-width="1"/>
<text transform="translate(207.4 467.65) translate(-4.02 0) scale(0.9200 1)" font-size="8.4" fill="#1a1a1a" stroke="#1a1a1a" stroke-width="0.1">0</text>
<line x1="210.6" y1="450.08" x2="213.6" y2="450.08" stroke="#2a2a2a" stroke-width="1"/>
<text transform="translate(207.4 452.93) translate(-8.31 0) scale(0.9200 1)" font-size="8.4" fill="#1a1a1a" stroke="#1a1a1a" stroke-width="0.1">20</text>
<line x1="210.6" y1="435.36" x2="213.6" y2="435.36" stroke="#2a2a2a" stroke-width="1"/>
<text transform="translate(207.4 438.21) translate(-8.31 0) scale(0.9200 1)" font-size="8.4" fill="#1a1a1a" stroke="#1a1a1a" stroke-width="0.1">40</text>
<line x1="210.6" y1="420.64" x2="213.6" y2="420.64" stroke="#2a2a2a" stroke-width="1"/>
<text transform="translate(207.4 423.49) translate(-8.31 0) scale(0.9200 1)" font-size="8.4" fill="#1a1a1a" stroke="#1a1a1a" stroke-width="0.1">60</text>
<line x1="210.6" y1="405.92" x2="213.6" y2="405.92" stroke="#2a2a2a" stroke-width="1"/>
<text transform="translate(207.4 408.77) translate(-8.31 0) scale(0.9200 1)" font-size="8.4" fill="#1a1a1a" stroke="#1a1a1a" stroke-width="0.1">80</text>
<line x1="213.6" y1="464.8" x2="213.6" y2="467.8" stroke="#2a2a2a" stroke-width="1"/>
<text transform="translate(213.6 477) translate(-2.16 0) scale(0.9200 1)" font-size="8.4" fill="#1a1a1a" stroke="#1a1a1a" stroke-width="0.1">0</text>
<line x1="234.5" y1="464.8" x2="234.5" y2="467.8" stroke="#2a2a2a" stroke-width="1"/>
<text transform="translate(234.5 477) translate(-2.14 0) scale(0.9200 1)" font-size="8.4" fill="#1a1a1a" stroke="#1a1a1a" stroke-width="0.1">2</text>
<line x1="255.4" y1="464.8" x2="255.4" y2="467.8" stroke="#2a2a2a" stroke-width="1"/>
<text transform="translate(255.4 477) translate(-2.11 0) scale(0.9200 1)" font-size="8.4" fill="#1a1a1a" stroke="#1a1a1a" stroke-width="0.1">4</text>
<line x1="276.3" y1="464.8" x2="276.3" y2="467.8" stroke="#2a2a2a" stroke-width="1"/>
<text transform="translate(276.3 477) translate(-2.18 0) scale(0.9200 1)" font-size="8.4" fill="#1a1a1a" stroke="#1a1a1a" stroke-width="0.1">6</text>
<text transform="translate(245.3 399.5) translate(-8.78 0) scale(0.8168 1)" font-size="8.6" fill="#1a1a1a" stroke="#1a1a1a" stroke-width="0.1">0.016</text>
<text transform="translate(274.3 394.4) translate(-8.78 0) scale(0.8135 1)" font-size="8.6" fill="#1a1a1a" stroke="#1a1a1a" stroke-width="0.1">0.004</text>
<path d="M398.6 341.7 L399.53 341.46 L400.46 341.21 L401.39 340.95 L402.32 340.69 L403.25 340.41 L404.18 340.13 L405.11 339.83 L406.04 339.53 L406.97 339.21 L407.9 338.88 L408.83 338.54 L409.76 338.19 L410.69 337.83 L411.62 337.45 L412.55 337.06 L413.48 336.66 L414.41 336.24 L415.34 335.81 L416.27 335.36 L417.2 334.9 L418.13 334.42 L419.06 333.92 L419.99 333.41 L420.92 332.88 L421.85 332.33 L422.78 331.76 L423.71 331.17 L424.64 330.55 L425.57 329.92 L426.5 329.27 L427.43 328.59 L428.36 327.89 L429.29 327.16 L430.22 326.41 L431.15 325.63 L432.08 324.82 L433.01 323.99 L433.94 323.12 L434.87 322.23 L435.8 321.3 L436.73 320.34 L437.66 319.35 L438.59 318.32 L439.52 317.26 L440.45 316.15 L441.38 315.01 L442.31 313.83 L443.24 312.61 L444.17 311.34 L445.1 310.03 L446.03 308.68 L446.96 307.27 L447.89 305.82 L448.82 304.31 L449.75 302.76 L450.68 301.14 L451.61 299.47 L452.54 297.74 L453.47 295.95 L454.4 294.1 L455.33 292.18 L456.26 290.2 L457.19 288.14 L458.12 286.01 L459.05 283.81 L459.98 281.53 L460.91 279.16" fill="none" stroke="#a9a9a9" stroke-width="1.05"/>
<line x1="432.7" y1="288" x2="432.7" y2="348.5" stroke="#555" stroke-width="0.75" stroke-dasharray="0.7 1.1"/>
<line x1="450.4" y1="281" x2="450.4" y2="348.5" stroke="#555" stroke-width="0.75" stroke-dasharray="0.7 1.1"/>
<line x1="398.6" y1="278.5" x2="398.6" y2="349.2" stroke="#2a2a2a" stroke-width="1.4"/>
<line x1="397.9" y1="348.5" x2="475" y2="348.5" stroke="#2a2a2a" stroke-width="1.4"/>
<path d="M398.6 341.7 L432.7 337.4 L450.4 342" fill="none" stroke="#33b540" stroke-width="1.45"/>
<line x1="425.3" y1="337.4" x2="441.4" y2="337.4" stroke="#33b540" stroke-width="1.15"/>
<line x1="425.3" y1="336" x2="425.3" y2="338.8" stroke="#33b540" stroke-width="1.15"/>
<line x1="441.4" y1="336" x2="441.4" y2="338.8" stroke="#33b540" stroke-width="1.15"/>
<line x1="432.7" y1="332.8" x2="432.7" y2="346" stroke="#33b540" stroke-width="1.15"/>
<line x1="431.3" y1="332.8" x2="434.1" y2="332.8" stroke="#33b540" stroke-width="1.15"/>
<line x1="431.3" y1="346" x2="434.1" y2="346" stroke="#33b540" stroke-width="1.15"/>
<line x1="442" y1="342" x2="459.5" y2="342" stroke="#33b540" stroke-width="1.15"/>
<line x1="442" y1="340.6" x2="442" y2="343.4" stroke="#33b540" stroke-width="1.15"/>
<line x1="459.5" y1="340.6" x2="459.5" y2="343.4" stroke="#33b540" stroke-width="1.15"/>
<rect x="396.7" y="339.8" width="3.8" height="3.8" rx="0.6" fill="#33b540"/>
<rect x="430.8" y="335.5" width="3.8" height="3.8" rx="0.6" fill="#33b540"/>
<rect x="448.5" y="340.1" width="3.8" height="3.8" rx="0.6" fill="#33b540"/>
<path d="M398.6 341.7 L432.7 323.3 L450.4 299.2" fill="none" stroke="#15579c" stroke-width="1.45"/>
<line x1="424.7" y1="323.3" x2="440.8" y2="323.3" stroke="#15579c" stroke-width="1.15"/>
<line x1="424.7" y1="321.9" x2="424.7" y2="324.7" stroke="#15579c" stroke-width="1.15"/>
<line x1="440.8" y1="321.9" x2="440.8" y2="324.7" stroke="#15579c" stroke-width="1.15"/>
<line x1="432.7" y1="315.3" x2="432.7" y2="331.4" stroke="#15579c" stroke-width="1.15"/>
<line x1="431.3" y1="315.3" x2="434.1" y2="315.3" stroke="#15579c" stroke-width="1.15"/>
<line x1="431.3" y1="331.4" x2="434.1" y2="331.4" stroke="#15579c" stroke-width="1.15"/>
<line x1="442" y1="299.2" x2="459.5" y2="299.2" stroke="#15579c" stroke-width="1.15"/>
<line x1="442" y1="297.8" x2="442" y2="300.6" stroke="#15579c" stroke-width="1.15"/>
<line x1="459.5" y1="297.8" x2="459.5" y2="300.6" stroke="#15579c" stroke-width="1.15"/>
<line x1="450.4" y1="287.7" x2="450.4" y2="318.3" stroke="#15579c" stroke-width="1.15"/>
<line x1="449" y1="287.7" x2="451.8" y2="287.7" stroke="#15579c" stroke-width="1.15"/>
<line x1="449" y1="318.3" x2="451.8" y2="318.3" stroke="#15579c" stroke-width="1.15"/>
<circle cx="398.6" cy="341.7" r="2.2" fill="#15579c"/>
<circle cx="432.7" cy="323.3" r="2.2" fill="#15579c"/>
<circle cx="450.4" cy="299.2" r="2.2" fill="#15579c"/>
<line x1="395.6" y1="348.5" x2="398.6" y2="348.5" stroke="#2a2a2a" stroke-width="1"/>
<text transform="translate(392.4 351.35) translate(-4.02 0) scale(0.9200 1)" font-size="8.4" fill="#1a1a1a" stroke="#1a1a1a" stroke-width="0.1">0</text>
<line x1="395.6" y1="334.9" x2="398.6" y2="334.9" stroke="#2a2a2a" stroke-width="1"/>
<text transform="translate(392.4 337.75) translate(-3.9 0) scale(0.9200 1)" font-size="8.4" fill="#1a1a1a" stroke="#1a1a1a" stroke-width="0.1">2</text>
<line x1="395.6" y1="321.3" x2="398.6" y2="321.3" stroke="#2a2a2a" stroke-width="1"/>
<text transform="translate(392.4 324.15) translate(-4.06 0) scale(0.9200 1)" font-size="8.4" fill="#1a1a1a" stroke="#1a1a1a" stroke-width="0.1">4</text>
<line x1="395.6" y1="307.7" x2="398.6" y2="307.7" stroke="#2a2a2a" stroke-width="1"/>
<text transform="translate(392.4 310.55) translate(-3.98 0) scale(0.9200 1)" font-size="8.4" fill="#1a1a1a" stroke="#1a1a1a" stroke-width="0.1">6</text>
<line x1="395.6" y1="294.1" x2="398.6" y2="294.1" stroke="#2a2a2a" stroke-width="1"/>
<text transform="translate(392.4 296.95) translate(-3.98 0) scale(0.9200 1)" font-size="8.4" fill="#1a1a1a" stroke="#1a1a1a" stroke-width="0.1">8</text>
<line x1="395.6" y1="280.5" x2="398.6" y2="280.5" stroke="#2a2a2a" stroke-width="1"/>
<text transform="translate(392.4 283.35) translate(-8.31 0) scale(0.9200 1)" font-size="8.4" fill="#1a1a1a" stroke="#1a1a1a" stroke-width="0.1">10</text>
<line x1="398.6" y1="348.5" x2="398.6" y2="351.5" stroke="#2a2a2a" stroke-width="1"/>
<text transform="translate(398.6 360.7) translate(-2.16 0) scale(0.9200 1)" font-size="8.4" fill="#1a1a1a" stroke="#1a1a1a" stroke-width="0.1">0</text>
<line x1="417.2" y1="348.5" x2="417.2" y2="351.5" stroke="#2a2a2a" stroke-width="1"/>
<text transform="translate(417.2 360.7) translate(-2.26 0) scale(0.9200 1)" font-size="8.4" fill="#1a1a1a" stroke="#1a1a1a" stroke-width="0.1">1</text>
<line x1="435.8" y1="348.5" x2="435.8" y2="351.5" stroke="#2a2a2a" stroke-width="1"/>
<text transform="translate(435.8 360.7) translate(-2.14 0) scale(0.9200 1)" font-size="8.4" fill="#1a1a1a" stroke="#1a1a1a" stroke-width="0.1">2</text>
<line x1="454.4" y1="348.5" x2="454.4" y2="351.5" stroke="#2a2a2a" stroke-width="1"/>
<text transform="translate(454.4 360.7) translate(-2.14 0) scale(0.9200 1)" font-size="8.4" fill="#1a1a1a" stroke="#1a1a1a" stroke-width="0.1">3</text>
<line x1="473" y1="348.5" x2="473" y2="351.5" stroke="#2a2a2a" stroke-width="1"/>
<text transform="translate(473 360.7) translate(-2.11 0) scale(0.9200 1)" font-size="8.4" fill="#1a1a1a" stroke="#1a1a1a" stroke-width="0.1">4</text>
<text transform="translate(432.4 284.6) translate(-11.04 0) scale(0.8403 1)" font-size="8.6" fill="#1a1a1a" stroke="#1a1a1a" stroke-width="0.1">0.0349</text>
<text transform="translate(450.6 277.7) translate(-11.04 0) scale(0.8389 1)" font-size="8.6" fill="#1a1a1a" stroke="#1a1a1a" stroke-width="0.1">0.0033</text>
<path d="M398.6 458.01 L399.53 457.77 L400.46 457.52 L401.39 457.27 L402.32 457 L403.25 456.73 L404.18 456.44 L405.11 456.15 L406.04 455.84 L406.97 455.52 L407.9 455.2 L408.83 454.86 L409.76 454.51 L410.69 454.15 L411.62 453.77 L412.55 453.38 L413.48 452.98 L414.41 452.56 L415.34 452.13 L416.27 451.68 L417.2 451.22 L418.13 450.74 L419.06 450.25 L419.99 449.73 L420.92 449.2 L421.85 448.65 L422.78 448.08 L423.71 447.49 L424.64 446.88 L425.57 446.25 L426.5 445.59 L427.43 444.92 L428.36 444.22 L429.29 443.49 L430.22 442.74 L431.15 441.96 L432.08 441.16 L433.01 440.32 L433.94 439.46 L434.87 438.57 L435.8 437.64 L436.73 436.68 L437.66 435.69 L438.59 434.66 L439.52 433.6 L440.45 432.5 L441.38 431.36 L442.31 430.18 L443.24 428.96 L444.17 427.7 L445.1 426.39 L446.03 425.04 L446.96 423.63 L447.89 422.18 L448.82 420.68 L449.75 419.12 L450.68 417.51 L451.61 415.84 L452.54 414.12 L453.47 412.33 L454.4 410.48 L455.33 408.56 L456.26 406.58 L457.19 404.53 L458.12 402.4 L459.05 400.2 L459.98 397.92 L460.91 395.57" fill="none" stroke="#a9a9a9" stroke-width="1.05"/>
<line x1="432.7" y1="401.5" x2="432.7" y2="464.8" stroke="#555" stroke-width="0.75" stroke-dasharray="0.7 1.1"/>
<line x1="450.4" y1="395.6" x2="450.4" y2="464.8" stroke="#555" stroke-width="0.75" stroke-dasharray="0.7 1.1"/>
<line x1="398.6" y1="395" x2="398.6" y2="465.5" stroke="#2a2a2a" stroke-width="1.4"/>
<line x1="397.9" y1="464.8" x2="475" y2="464.8" stroke="#2a2a2a" stroke-width="1.4"/>
<path d="M398.6 458 L432.7 456.2 L450.4 457" fill="none" stroke="#d0142c" stroke-width="1.45"/>
<line x1="424.4" y1="456.2" x2="441.4" y2="456.2" stroke="#d0142c" stroke-width="1.15"/>
<line x1="424.4" y1="454.8" x2="424.4" y2="457.6" stroke="#d0142c" stroke-width="1.15"/>
<line x1="441.4" y1="454.8" x2="441.4" y2="457.6" stroke="#d0142c" stroke-width="1.15"/>
<line x1="432.7" y1="448" x2="432.7" y2="462.9" stroke="#d0142c" stroke-width="1.15"/>
<line x1="431.3" y1="448" x2="434.1" y2="448" stroke="#d0142c" stroke-width="1.15"/>
<line x1="431.3" y1="462.9" x2="434.1" y2="462.9" stroke="#d0142c" stroke-width="1.15"/>
<line x1="442.5" y1="457" x2="459.4" y2="457" stroke="#d0142c" stroke-width="1.15"/>
<line x1="442.5" y1="455.6" x2="442.5" y2="458.4" stroke="#d0142c" stroke-width="1.15"/>
<line x1="459.4" y1="455.6" x2="459.4" y2="458.4" stroke="#d0142c" stroke-width="1.15"/>
<line x1="450.4" y1="442.7" x2="450.4" y2="464.2" stroke="#d0142c" stroke-width="1.15"/>
<line x1="449" y1="442.7" x2="451.8" y2="442.7" stroke="#d0142c" stroke-width="1.15"/>
<line x1="449" y1="464.2" x2="451.8" y2="464.2" stroke="#d0142c" stroke-width="1.15"/>
<rect x="396.7" y="456.1" width="3.8" height="3.8" rx="0.6" fill="#d0142c"/>
<rect x="430.8" y="454.3" width="3.8" height="3.8" rx="0.6" fill="#d0142c"/>
<rect x="448.5" y="455.1" width="3.8" height="3.8" rx="0.6" fill="#d0142c"/>
<path d="M398.6 458 L432.7 440 L450.4 415.8" fill="none" stroke="#15579c" stroke-width="1.45"/>
<line x1="424.4" y1="440" x2="441.4" y2="440" stroke="#15579c" stroke-width="1.15"/>
<line x1="424.4" y1="438.6" x2="424.4" y2="441.4" stroke="#15579c" stroke-width="1.15"/>
<line x1="441.4" y1="438.6" x2="441.4" y2="441.4" stroke="#15579c" stroke-width="1.15"/>
<line x1="432.7" y1="432.5" x2="432.7" y2="448.6" stroke="#15579c" stroke-width="1.15"/>
<line x1="431.3" y1="432.5" x2="434.1" y2="432.5" stroke="#15579c" stroke-width="1.15"/>
<line x1="431.3" y1="448.6" x2="434.1" y2="448.6" stroke="#15579c" stroke-width="1.15"/>
<line x1="442.5" y1="415.8" x2="459.4" y2="415.8" stroke="#15579c" stroke-width="1.15"/>
<line x1="442.5" y1="414.4" x2="442.5" y2="417.2" stroke="#15579c" stroke-width="1.15"/>
<line x1="459.4" y1="414.4" x2="459.4" y2="417.2" stroke="#15579c" stroke-width="1.15"/>
<line x1="450.4" y1="404.5" x2="450.4" y2="435.2" stroke="#15579c" stroke-width="1.15"/>
<line x1="449" y1="404.5" x2="451.8" y2="404.5" stroke="#15579c" stroke-width="1.15"/>
<line x1="449" y1="435.2" x2="451.8" y2="435.2" stroke="#15579c" stroke-width="1.15"/>
<circle cx="398.6" cy="458" r="2.2" fill="#15579c"/>
<circle cx="432.7" cy="440" r="2.2" fill="#15579c"/>
<circle cx="450.4" cy="415.8" r="2.2" fill="#15579c"/>
<line x1="395.6" y1="464.8" x2="398.6" y2="464.8" stroke="#2a2a2a" stroke-width="1"/>
<text transform="translate(392.4 467.65) translate(-4.02 0) scale(0.9200 1)" font-size="8.4" fill="#1a1a1a" stroke="#1a1a1a" stroke-width="0.1">0</text>
<line x1="395.6" y1="451.22" x2="398.6" y2="451.22" stroke="#2a2a2a" stroke-width="1"/>
<text transform="translate(392.4 454.07) translate(-3.9 0) scale(0.9200 1)" font-size="8.4" fill="#1a1a1a" stroke="#1a1a1a" stroke-width="0.1">2</text>
<line x1="395.6" y1="437.64" x2="398.6" y2="437.64" stroke="#2a2a2a" stroke-width="1"/>
<text transform="translate(392.4 440.49) translate(-4.06 0) scale(0.9200 1)" font-size="8.4" fill="#1a1a1a" stroke="#1a1a1a" stroke-width="0.1">4</text>
<line x1="395.6" y1="424.06" x2="398.6" y2="424.06" stroke="#2a2a2a" stroke-width="1"/>
<text transform="translate(392.4 426.91) translate(-3.98 0) scale(0.9200 1)" font-size="8.4" fill="#1a1a1a" stroke="#1a1a1a" stroke-width="0.1">6</text>
<line x1="395.6" y1="410.48" x2="398.6" y2="410.48" stroke="#2a2a2a" stroke-width="1"/>
<text transform="translate(392.4 413.33) translate(-3.98 0) scale(0.9200 1)" font-size="8.4" fill="#1a1a1a" stroke="#1a1a1a" stroke-width="0.1">8</text>
<line x1="395.6" y1="396.9" x2="398.6" y2="396.9" stroke="#2a2a2a" stroke-width="1"/>
<text transform="translate(392.4 399.75) translate(-8.31 0) scale(0.9200 1)" font-size="8.4" fill="#1a1a1a" stroke="#1a1a1a" stroke-width="0.1">10</text>
<line x1="398.6" y1="464.8" x2="398.6" y2="467.8" stroke="#2a2a2a" stroke-width="1"/>
<text transform="translate(398.6 477) translate(-2.16 0) scale(0.9200 1)" font-size="8.4" fill="#1a1a1a" stroke="#1a1a1a" stroke-width="0.1">0</text>
<line x1="417.2" y1="464.8" x2="417.2" y2="467.8" stroke="#2a2a2a" stroke-width="1"/>
<text transform="translate(417.2 477) translate(-2.26 0) scale(0.9200 1)" font-size="8.4" fill="#1a1a1a" stroke="#1a1a1a" stroke-width="0.1">1</text>
<line x1="435.8" y1="464.8" x2="435.8" y2="467.8" stroke="#2a2a2a" stroke-width="1"/>
<text transform="translate(435.8 477) translate(-2.14 0) scale(0.9200 1)" font-size="8.4" fill="#1a1a1a" stroke="#1a1a1a" stroke-width="0.1">2</text>
<line x1="454.4" y1="464.8" x2="454.4" y2="467.8" stroke="#2a2a2a" stroke-width="1"/>
<text transform="translate(454.4 477) translate(-2.14 0) scale(0.9200 1)" font-size="8.4" fill="#1a1a1a" stroke="#1a1a1a" stroke-width="0.1">3</text>
<line x1="473" y1="464.8" x2="473" y2="467.8" stroke="#2a2a2a" stroke-width="1"/>
<text transform="translate(473 477) translate(-2.11 0) scale(0.9200 1)" font-size="8.4" fill="#1a1a1a" stroke="#1a1a1a" stroke-width="0.1">4</text>
<text transform="translate(432.5 399.6) translate(-8.78 0) scale(0.8168 1)" font-size="8.6" fill="#1a1a1a" stroke="#1a1a1a" stroke-width="0.1">0.016</text>
<text transform="translate(450.5 392) translate(-8.78 0) scale(0.8135 1)" font-size="8.6" fill="#1a1a1a" stroke="#1a1a1a" stroke-width="0.1">0.004</text>
<text transform="translate(181 315.3) rotate(-90) translate(-31.13 0) scale(0.8248 1)" font-size="9.2" fill="#1a1a1a" stroke="#1a1a1a" stroke-width="0.1">Cellular output per</text>
<text transform="translate(191.9 315.3) rotate(-90) translate(-26.79 0) scale(0.7774 1)" font-size="9.2" fill="#1a1a1a" stroke="#1a1a1a" stroke-width="0.1">active early MEP</text>
<text transform="translate(181 431.6) rotate(-90) translate(-31.13 0) scale(0.8248 1)" font-size="9.2" fill="#1a1a1a" stroke="#1a1a1a" stroke-width="0.1">Cellular output per</text>
<text transform="translate(191.9 431.6) rotate(-90) translate(-26.79 0) scale(0.7774 1)" font-size="9.2" fill="#1a1a1a" stroke="#1a1a1a" stroke-width="0.1">active early MEP</text>
<text transform="translate(366.6 313) rotate(-90) translate(-31.13 0) scale(0.8248 1)" font-size="9.2" fill="#1a1a1a" stroke="#1a1a1a" stroke-width="0.1">Cellular output per</text>
<text transform="translate(377.5 313) rotate(-90) translate(-26.79 0) scale(0.7952 1)" font-size="9.2" fill="#1a1a1a" stroke="#1a1a1a" stroke-width="0.1">active early MyP</text>
<text transform="translate(366.6 429.3) rotate(-90) translate(-31.13 0) scale(0.8248 1)" font-size="9.2" fill="#1a1a1a" stroke="#1a1a1a" stroke-width="0.1">Cellular output per</text>
<text transform="translate(377.5 429.3) rotate(-90) translate(-26.79 0) scale(0.7952 1)" font-size="9.2" fill="#1a1a1a" stroke="#1a1a1a" stroke-width="0.1">active early MyP</text>
<text transform="translate(250.7 373.8) translate(-15.41 0) scale(0.7055 1)" font-size="10.8" fill="#1a1a1a" stroke="#1a1a1a" stroke-width="0.1">Divisions</text>
<text transform="translate(250.7 490.2) translate(-15.41 0) scale(0.7055 1)" font-size="10.8" fill="#1a1a1a" stroke="#1a1a1a" stroke-width="0.1">Divisions</text>
<text transform="translate(435.9 373.6) translate(-15.41 0) scale(0.7055 1)" font-size="10.8" fill="#1a1a1a" stroke="#1a1a1a" stroke-width="0.1">Divisions</text>
<text transform="translate(435.9 490) translate(-15.41 0) scale(0.7055 1)" font-size="10.8" fill="#1a1a1a" stroke="#1a1a1a" stroke-width="0.1">Divisions</text>
<text transform="translate(220.1 263) rotate(-45) translate(-7.24 0) scale(0.7135 1)" font-size="8.6" fill="#1a1a1a" stroke="#1a1a1a" stroke-width="0.15">Early</text>
<text transform="translate(248 256.7) rotate(-45) translate(-7.84 0) scale(0.7664 1)" font-size="8.6" fill="#1a1a1a" stroke="#1a1a1a" stroke-width="0.15">Inter-</text>
<text transform="translate(258.6 259.6) rotate(-45) translate(-11.93 0) scale(0.7763 1)" font-size="8.6" fill="#1a1a1a" stroke="#1a1a1a" stroke-width="0.15">mediate</text>
<text transform="translate(280.2 263.4) rotate(-45) translate(-6.53 0) scale(0.7667 1)" font-size="8.6" fill="#1a1a1a" stroke="#1a1a1a" stroke-width="0.15">Late</text>
<text transform="translate(405.3 263.3) rotate(-45) translate(-7.24 0) scale(0.7135 1)" font-size="8.6" fill="#1a1a1a" stroke="#1a1a1a" stroke-width="0.15">Early</text>
<text transform="translate(436.4 256.8) rotate(-45) translate(-7.84 0) scale(0.7664 1)" font-size="8.6" fill="#1a1a1a" stroke="#1a1a1a" stroke-width="0.15">Inter-</text>
<text transform="translate(446.8 259.8) rotate(-45) translate(-11.93 0) scale(0.7763 1)" font-size="8.6" fill="#1a1a1a" stroke="#1a1a1a" stroke-width="0.15">mediate</text>
<text transform="translate(456.3 263.7) rotate(-45) translate(-6.53 0) scale(0.7667 1)" font-size="8.6" fill="#1a1a1a" stroke="#1a1a1a" stroke-width="0.15">Late</text>
<line x1="296.9" y1="440.6" x2="303.9" y2="440.6" stroke="#15579c" stroke-width="1.35"/>
<path d="M297.9 440.6 L300.4 438.4 L302.9 440.6 L300.4 442.8Z" fill="#15579c" stroke="none" stroke-width="1"/>
<text transform="translate(306.8 443.15) translate(-0.64 0) scale(0.9566 1)" font-size="8.3" fill="#1a1a1a" stroke="#1a1a1a" stroke-width="0.1">BM</text>
<line x1="296.9" y1="451.4" x2="303.9" y2="451.4" stroke="#33b540" stroke-width="1.35"/>
<rect x="298.2" y="449.5" width="4.4" height="3.8" rx="1.0" fill="#33b540"/>
<text transform="translate(306.8 453.95) translate(-0.3 0) scale(0.7966 1)" font-size="8.3" fill="#1a1a1a" stroke="#1a1a1a" stroke-width="0.1">SPL</text>
<line x1="296.9" y1="462.1" x2="303.9" y2="462.1" stroke="#d0142c" stroke-width="1.35"/>
<rect x="298.2" y="460.2" width="4.4" height="3.8" rx="1.0" fill="#d0142c"/>
<text transform="translate(306.8 464.65) translate(-0.57 0) scale(0.8635 1)" font-size="8.3" fill="#1a1a1a" stroke="#1a1a1a" stroke-width="0.1">PB</text>
<line x1="490" y1="440.5" x2="497.3" y2="440.5" stroke="#15579c" stroke-width="1.35"/>
<path d="M491.15 440.5 L493.65 438.3 L496.15 440.5 L493.65 442.7Z" fill="#15579c" stroke="none" stroke-width="1"/>
<text transform="translate(500.9 443.05) translate(-0.64 0) scale(0.9566 1)" font-size="8.3" fill="#1a1a1a" stroke="#1a1a1a" stroke-width="0.1">BM</text>
<line x1="490" y1="451.3" x2="497.3" y2="451.3" stroke="#33b540" stroke-width="1.35"/>
<rect x="491.45" y="449.4" width="4.4" height="3.8" rx="1.0" fill="#33b540"/>
<text transform="translate(500.9 453.85) translate(-0.3 0) scale(0.7966 1)" font-size="8.3" fill="#1a1a1a" stroke="#1a1a1a" stroke-width="0.1">SPL</text>
<line x1="490" y1="462.2" x2="497.3" y2="462.2" stroke="#d0142c" stroke-width="1.35"/>
<rect x="491.45" y="460.3" width="4.4" height="3.8" rx="1.0" fill="#d0142c"/>
<text transform="translate(500.9 464.75) translate(-0.57 0) scale(0.8635 1)" font-size="8.3" fill="#1a1a1a" stroke="#1a1a1a" stroke-width="0.1">PB</text>
<rect x="0" y="0" width="520" height="1.2" fill="#000"/><rect x="0" y="0" width="1.1" height="497" fill="#000"/><rect x="518.6" y="0" width="1.4" height="497" fill="#000"/><rect x="0" y="495.9" width="520" height="1.1" fill="#000"/>
</svg>
</body></html>
